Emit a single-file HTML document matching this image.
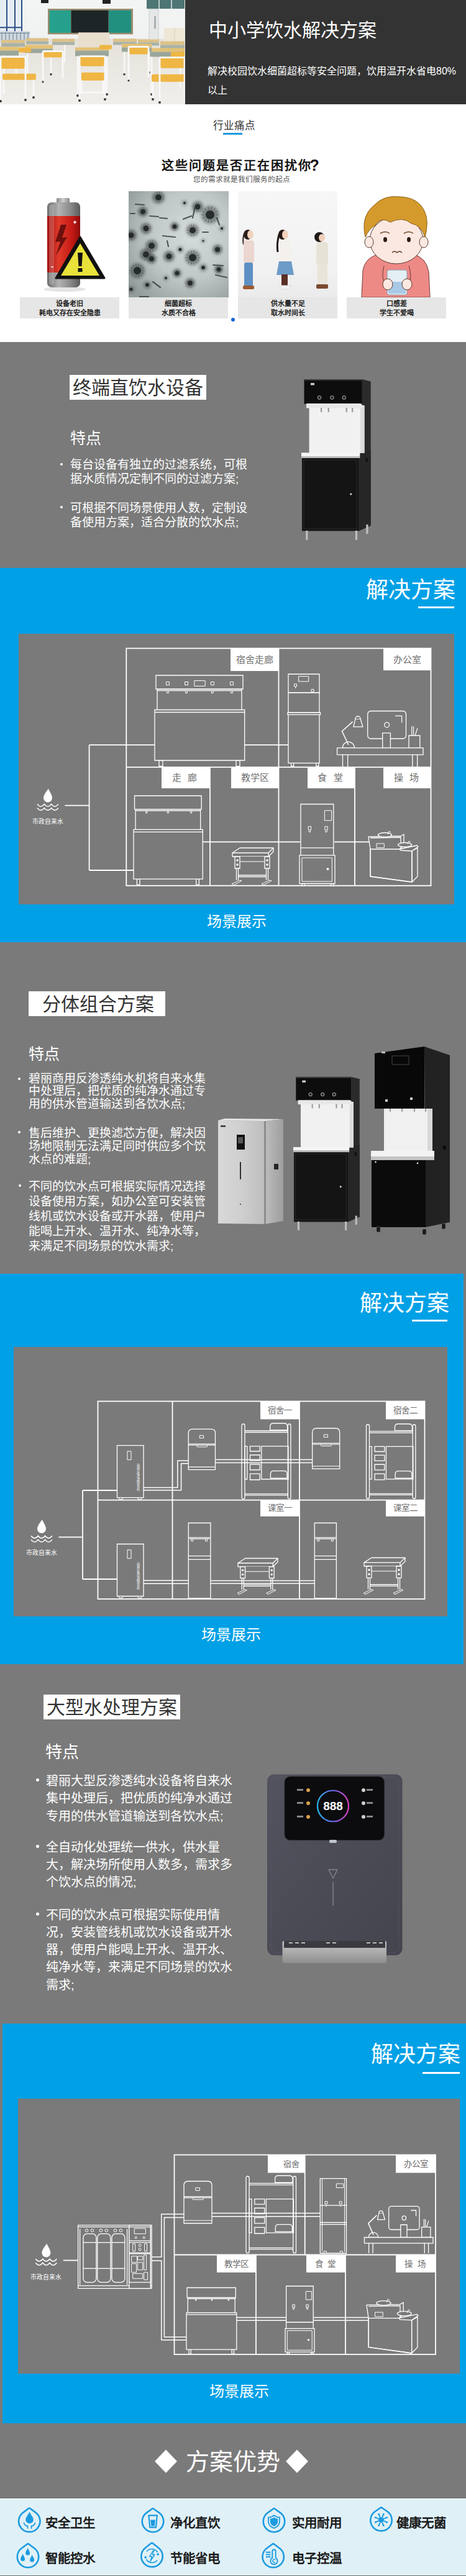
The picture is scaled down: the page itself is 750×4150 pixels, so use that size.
<!DOCTYPE html>
<html lang="zh-CN"><head><meta charset="utf-8"><title>中小学饮水解决方案</title>
<style>
*{margin:0;padding:0;box-sizing:border-box}
html,body{width:750px;height:4150px;overflow:hidden;background:#fff;font-family:"Liberation Sans",sans-serif}
#pg{position:relative;width:750px;height:4150px;background:#fff}
.a{position:absolute}
.nw{white-space:nowrap}
.gray{background:#7a7a7a}
.blue{background:#00a0e6}
.t30{font-size:30px;line-height:30px;color:#fff}
.tbox{background:#fff;width:220px;height:40px;text-align:center;font-size:30px;line-height:42px;color:#333;white-space:nowrap}
.feat{font-size:25px;line-height:25px;color:#fff;white-space:nowrap}
.bl{color:#fff;white-space:nowrap}
.bl .dot{position:absolute;width:4px;height:4px;background:#fff;border-radius:50%}
.sol{font-size:36px;line-height:36px;color:#fff;white-space:nowrap}
.scene{font-size:24px;line-height:24px;color:#fff;white-space:nowrap}
.cap{background:#e6e6e6;text-align:center;font-size:11px;line-height:14.5px;font-weight:bold;color:#1e1e1e;white-space:nowrap;padding-top:3px}
.card{position:absolute;top:308px;width:160px;height:205px;background:#fff}
.fi{position:absolute;font-size:20.5px;font-weight:bold;color:#1a1a1a;white-space:nowrap;line-height:21px}
.j{display:inline-block;text-align:justify;text-align-last:justify;white-space:nowrap}
</style></head><body><div id="pg">

<!-- header -->
<div class="a" id="photo" style="left:0;top:0;width:298px;height:168px;background:#e8e6e0;overflow:hidden"><svg width="298" height="168" viewBox="0 0 298 167" preserveAspectRatio="none"><defs><linearGradient id="pwall" x1="0" y1="0" x2="0" y2="1"><stop offset="0" stop-color="#f3f4f4"/><stop offset="1" stop-color="#eceeed"/></linearGradient><linearGradient id="pfloor" x1="0" y1="0" x2="0" y2="1"><stop offset="0" stop-color="#e4e1da"/><stop offset="1" stop-color="#f1efeb"/></linearGradient></defs><rect width="298" height="167" fill="url(#pwall)"/><rect x="0" y="62" width="298" height="105" fill="url(#pfloor)"/><rect x="0" y="0" width="36" height="52" fill="#e6edf2"/><g stroke="#2d4f86" stroke-width="2" fill="none"><line x1="11" y1="0" x2="11" y2="52"/><line x1="24" y1="0" x2="24" y2="52"/><line x1="35" y1="0" x2="35" y2="52"/><line x1="0" y1="44" x2="36" y2="44"/></g><rect x="0" y="50" width="48" height="18" fill="#cfd8e0"/><g stroke="#7a8a99" stroke-width="1.2"><line x1="3" y1="52" x2="3" y2="68"/><line x1="9" y1="52" x2="9" y2="68"/><line x1="15" y1="52" x2="15" y2="68"/><line x1="21" y1="52" x2="21" y2="68"/><line x1="27" y1="52" x2="27" y2="68"/><line x1="33" y1="52" x2="33" y2="68"/><line x1="39" y1="52" x2="39" y2="68"/><line x1="45" y1="52" x2="45" y2="68"/><line x1="0" y1="53" x2="48" y2="53"/></g><rect x="66" y="0" width="12" height="5" fill="#222"/><rect x="165" y="0" width="13" height="6" fill="#222"/><rect x="236" y="0" width="62" height="14" fill="#4c7574"/><g stroke="#e3e9e9" stroke-width="1.5"><line x1="256" y1="0" x2="256" y2="14"/><line x1="276" y1="0" x2="276" y2="14"/></g><rect x="240" y="15" width="15" height="52" fill="#e6e8e8" stroke="#cdd0d0"/><rect x="248" y="26" width="3" height="20" fill="#a8b0b4"/><rect x="264" y="45" width="34" height="26" fill="#efe7d6"/><line x1="281" y1="45" x2="281" y2="71" stroke="#dacfb8"/><rect x="77" y="14" width="137" height="41" fill="#9a8b6c"/><rect x="79.5" y="16.5" width="34.5" height="36" fill="#26a08c"/><rect x="114.5" y="16.5" width="60" height="36" fill="#1e2526"/><rect x="175" y="16.5" width="36" height="36" fill="#22907f"/><rect x="126" y="52" width="50" height="24" fill="#e8dfcd"/><g fill="#ddc187"><rect x="2" y="64" width="38" height="5"/><rect x="42" y="61" width="36" height="5"/><rect x="84" y="62" width="36" height="5"/><rect x="182" y="62" width="38" height="5"/><rect x="222" y="63" width="34" height="5"/><rect x="258" y="66" width="40" height="6"/></g><g fill="#a9b2a8"><rect x="2" y="69" width="38" height="6"/><rect x="42" y="66" width="36" height="5"/><rect x="84" y="67" width="36" height="5"/><rect x="182" y="67" width="38" height="5"/><rect x="222" y="68" width="34" height="5"/><rect x="258" y="72" width="40" height="6"/></g><g fill="#e3c175"><rect x="0" y="75" width="30" height="6"/><rect x="40" y="72" width="45" height="6"/><rect x="121" y="76" width="54" height="5"/><rect x="196" y="70" width="48" height="6"/><rect x="238" y="77" width="60" height="6"/></g><g fill="#9ba69b"><rect x="0" y="81" width="30" height="8"/><rect x="40" y="78" width="45" height="7"/><rect x="121" y="81" width="54" height="9"/><rect x="196" y="76" width="48" height="7"/><rect x="238" y="83" width="60" height="8"/></g><g stroke="#f7f7f7" stroke-width="2.6"><line x1="125" y1="90" x2="125" y2="152"/><line x1="172" y1="90" x2="172" y2="150"/><line x1="44" y1="85" x2="44" y2="120"/><line x1="82" y1="85" x2="82" y2="118"/><line x1="200" y1="83" x2="200" y2="118"/><line x1="240" y1="83" x2="240" y2="115"/><line x1="244" y1="91" x2="244" y2="150"/><line x1="290" y1="91" x2="290" y2="140"/><line x1="6" y1="89" x2="6" y2="125"/><line x1="26" y1="89" x2="26" y2="120"/><line x1="104" y1="72" x2="104" y2="100"/><line x1="300" y1="72" x2="300" y2="100"/></g><g fill="#3a3a3a"><circle cx="125" cy="153" r="2"/><circle cx="172" cy="151" r="2"/><circle cx="44" cy="121" r="1.8"/><circle cx="82" cy="119" r="1.8"/><circle cx="244" cy="151" r="2"/><circle cx="200" cy="119" r="1.8"/><circle cx="240" cy="116" r="1.8"/></g><g fill="#efb644"><rect x="0" y="92" width="40" height="18" rx="3"/><rect x="4" y="118" width="54" height="10" rx="2"/><rect x="129" y="90.5" width="39" height="15.5" rx="3"/><rect x="131" y="116" width="37" height="13" rx="2"/><rect x="258" y="93" width="39" height="16" rx="3"/><rect x="244" y="119" width="54" height="12" rx="2"/><rect x="208" y="76" width="30" height="11" rx="2"/><rect x="70" y="82" width="30" height="10" rx="2"/><rect x="160" y="72" width="20" height="7" rx="2"/><rect x="30" y="76" width="20" height="8" rx="2"/><rect x="275" y="83" width="23" height="8" rx="2"/></g><g stroke="#f8f8f8" stroke-width="2.8" fill="none"><path d="M1 91 H41 M41 91 V160 M1 91 V162 M6 128 V150 M54 128 V155"/><path d="M128 90 H169 M128 90 V160 M169 90 V158 M131 129 V150 M166 129 V150 M128 148 H169"/><path d="M257 92 H298 M257 92 V163 M297 92 V160 M246 131 V158"/><path d="M69 82 H101 M69 82 V130 M101 82 V125"/><path d="M207 75 H239 M207 75 V128 M239 75 V124"/></g><g fill="#3a3a3a"><circle cx="1" cy="162" r="2"/><circle cx="41" cy="160" r="2"/><circle cx="128" cy="161" r="2"/><circle cx="169" cy="159" r="2"/><circle cx="257" cy="164" r="2"/><circle cx="246" cy="159" r="2"/><circle cx="54" cy="156" r="2"/><circle cx="69" cy="131" r="1.6"/><circle cx="207" cy="129" r="1.6"/></g></svg></div>
<div class="a" style="left:298px;top:0;width:452px;height:168px;background:#333"></div><div class="a" style="left:296.5px;top:0;width:1.5px;height:168px;background:#ecebe8"></div>
<div class="a t30 nw" style="left:336px;top:34px"><span class="j" style="width:270.00px">中小学饮水解决方案</span></div>
<div class="a nw" style="left:334px;top:99px;font-size:16px;line-height:31px;color:#fff"><span class="j" style="width:400.03px">解决校园饮水细菌超标等安全问题，饮用温开水省电80%</span><br><span class="j" style="width:32.00px">以上</span></div>

<!-- pain points -->
<div class="a nw" style="left:1.5px;width:750px;top:192.5px;text-align:center;font-size:16.5px;line-height:18px;color:#333"><span class="j" style="width:68.00px">行业痛点</span></div>
<div class="a" style="left:359px;top:214px;width:31px;height:3px;background:#1d9be0"></div>
<div class="a nw" style="left:259.5px;top:254px;font-size:20px;letter-spacing:2px;line-height:22px;font-weight:bold;color:#111"><span class="j" style="width:242.00px">这些问题是否正在困扰你</span><span style="font-size:25px;margin-left:-3px;position:relative;top:1px">?</span></div>
<div class="a nw" style="left:310.5px;top:281.5px;font-size:11.7px;line-height:13px;color:#555"><span class="j" style="width:156.00px">您的需求就是我们服务的起点</span></div>

<div class="card" style="left:32px"><div id="img1" class="a" style="left:0;top:0;width:160px;height:171px"><svg width="160" height="171" viewBox="0 0 160 171"><defs><linearGradient id="bg1" x1="0" x2="1"><stop offset="0" stop-color="#6d6d6d"/><stop offset=".35" stop-color="#b3b3b3"/><stop offset=".7" stop-color="#8a8a8a"/><stop offset="1" stop-color="#5a5a5a"/></linearGradient><linearGradient id="br1" x1="0" x2="1"><stop offset="0" stop-color="#a01010"/><stop offset=".35" stop-color="#e03a2a"/><stop offset=".75" stop-color="#c41a14"/><stop offset="1" stop-color="#8a0c0c"/></linearGradient><linearGradient id="bc1" x1="0" x2="1"><stop offset="0" stop-color="#888"/><stop offset=".5" stop-color="#cfcfcf"/><stop offset="1" stop-color="#888"/></linearGradient></defs><ellipse cx="72" cy="158" rx="34" ry="4" fill="#e4e4e4"/><rect x="59" y="11" width="21" height="9" rx="2" fill="url(#bc1)"/><rect x="44" y="18" width="53" height="137" rx="7" fill="url(#bg1)"/><rect x="44" y="40" width="53" height="91" fill="url(#br1)"/><rect x="47" y="22" width="8" height="128" rx="3" fill="#ffffff" opacity=".18"/><path d="M66 54 L57 82 L65 81 L58 104 L76 74 L68 75 L75 54 Z" fill="#5a0a0a" opacity=".85"/><path d="M86 50 h5 M88.5 47.5 v5" stroke="#fff" stroke-width="1.6"/><path d="M50 122 h4" stroke="#fff" stroke-width="1.4"/><path d="M97 74 L136 140 L58 140 Z" fill="#111" stroke="#111" stroke-width="3" stroke-linejoin="round"/><path d="M97 84 L128 136 L66 136 Z" fill="#e9e23a"/><path d="M93 99 h8 l-1.5 22 h-5 Z" fill="#111"/><rect x="93.5" y="124" width="7" height="6" fill="#111"/></svg></div><div class="a cap" style="left:0;top:171px;width:160px;height:34px"><span class="j" style="width:44.00px">设备老旧</span><br><span class="j" style="width:99.00px">耗电又存在安全隐患</span></div></div>
<div class="card" style="left:207px"><div id="img2" class="a" style="left:0;top:0;width:160px;height:171px;background:radial-gradient(ellipse at 60% 45%,#d3d9da 0%,#b4bcbd 45%,#8d9596 100%)"><svg width="161" height="171" viewBox="0 0 161 171"><defs><radialGradient id="bgb" cx=".62" cy=".42" r=".75"><stop offset="0" stop-color="#d5dbdb"/><stop offset=".55" stop-color="#c0c7c7"/><stop offset="1" stop-color="#939c9c"/></radialGradient><filter id="fb" x="-1" y="-1" width="3" height="3"><feGaussianBlur stdDeviation="2.2"/></filter></defs><rect width="161" height="171" fill="url(#bgb)"/><circle cx="48" cy="10" r="10.5" fill="#3a3f40" opacity=".45" filter="url(#fb)"/><circle cx="48" cy="10" r="5.0" fill="#1d2121" opacity=".9"/><path d="M52.5 10.0L57.5 10.0M52.1 12.0L56.6 14.1M50.8 13.5L53.9 17.4M49.0 14.4L50.1 19.3M47.0 14.4L45.9 19.3M45.2 13.5L42.1 17.4M43.9 12.0L39.4 14.1M43.5 10.0L38.5 10.0M43.9 8.0L39.4 5.9M45.2 6.5L42.1 2.6M47.0 5.6L45.9 0.7M49.0 5.6L50.1 0.7M50.8 6.5L53.9 2.6M52.1 8.0L56.6 5.9" stroke="#2f3434" stroke-width=".7" opacity=".7"/><circle cx="23" cy="33" r="8.4" fill="#3a3f40" opacity=".45" filter="url(#fb)"/><circle cx="23" cy="33" r="4.0" fill="#1d2121" opacity=".9"/><path d="M26.6 33.0L30.6 33.0M26.2 34.6L29.8 36.3M25.2 35.8L27.7 38.9M23.8 36.5L24.7 40.4M22.2 36.5L21.3 40.4M20.8 35.8L18.3 38.9M19.8 34.6L16.2 36.3M19.4 33.0L15.4 33.0M19.8 31.4L16.2 29.7M20.8 30.2L18.3 27.1M22.2 29.5L21.3 25.6M23.8 29.5L24.7 25.6M25.2 30.2L27.7 27.1M26.2 31.4L29.8 29.7" stroke="#2f3434" stroke-width=".7" opacity=".7"/><circle cx="111" cy="25" r="9.5" fill="#3a3f40" opacity=".45" filter="url(#fb)"/><circle cx="111" cy="25" r="4.5" fill="#1d2121" opacity=".9"/><path d="M115.0 25.0L119.5 25.0M114.6 26.8L118.7 28.7M113.5 28.2L116.3 31.7M111.9 28.9L112.9 33.3M110.1 28.9L109.1 33.3M108.5 28.2L105.7 31.7M107.4 26.8L103.3 28.7M107.0 25.0L102.5 25.0M107.4 23.2L103.3 21.3M108.5 21.8L105.7 18.3M110.1 21.1L109.1 16.7M111.9 21.1L112.9 16.7M113.5 21.8L116.3 18.3M114.6 23.2L118.7 21.3" stroke="#2f3434" stroke-width=".7" opacity=".7"/><circle cx="131" cy="38" r="14.7" fill="#3a3f40" opacity=".45" filter="url(#fb)"/><circle cx="131" cy="38" r="7.0" fill="#1d2121" opacity=".9"/><path d="M137.3 38.0L144.3 38.0M136.7 40.7L143.0 43.8M134.9 42.9L139.3 48.4M132.4 44.1L134.0 51.0M129.6 44.1L128.0 51.0M127.1 42.9L122.7 48.4M125.3 40.7L119.0 43.8M124.7 38.0L117.7 38.0M125.3 35.3L119.0 32.2M127.1 33.1L122.7 27.6M129.6 31.9L128.0 25.0M132.4 31.9L134.0 25.0M134.9 33.1L139.3 27.6M136.7 35.3L143.0 32.2" stroke="#2f3434" stroke-width=".7" opacity=".7"/><circle cx="28" cy="60" r="9.5" fill="#3a3f40" opacity=".45" filter="url(#fb)"/><circle cx="28" cy="60" r="4.5" fill="#1d2121" opacity=".9"/><path d="M32.0 60.0L36.5 60.0M31.6 61.8L35.7 63.7M30.5 63.2L33.3 66.7M28.9 63.9L29.9 68.3M27.1 63.9L26.1 68.3M25.5 63.2L22.7 66.7M24.4 61.8L20.3 63.7M23.9 60.0L19.5 60.0M24.4 58.2L20.3 56.3M25.5 56.8L22.7 53.3M27.1 56.1L26.1 51.7M28.9 56.1L29.9 51.7M30.5 56.8L33.3 53.3M31.6 58.2L35.7 56.3" stroke="#2f3434" stroke-width=".7" opacity=".7"/><circle cx="74" cy="57" r="7.4" fill="#3a3f40" opacity=".45" filter="url(#fb)"/><circle cx="74" cy="57" r="3.5" fill="#1d2121" opacity=".9"/><path d="M77.2 57.0L80.7 57.0M76.8 58.4L80.0 59.9M76.0 59.5L78.1 62.2M74.7 60.1L75.5 63.5M73.3 60.1L72.5 63.5M72.0 59.5L69.9 62.2M71.2 58.4L68.0 59.9M70.8 57.0L67.3 57.0M71.2 55.6L68.0 54.1M72.0 54.5L69.9 51.8M73.3 53.9L72.5 50.5M74.7 53.9L75.5 50.5M76.0 54.5L78.1 51.8M76.8 55.6L80.0 54.1" stroke="#2f3434" stroke-width=".7" opacity=".7"/><circle cx="103" cy="63" r="10.5" fill="#3a3f40" opacity=".45" filter="url(#fb)"/><circle cx="103" cy="63" r="5.0" fill="#1d2121" opacity=".9"/><path d="M107.5 63.0L112.5 63.0M107.1 65.0L111.6 67.1M105.8 66.5L108.9 70.4M104.0 67.4L105.1 72.3M102.0 67.4L100.9 72.3M100.2 66.5L97.1 70.4M98.9 65.0L94.4 67.1M98.5 63.0L93.5 63.0M98.9 61.0L94.4 58.9M100.2 59.5L97.1 55.6M102.0 58.6L100.9 53.7M104.0 58.6L105.1 53.7M105.8 59.5L108.9 55.6M107.1 61.0L111.6 58.9" stroke="#2f3434" stroke-width=".7" opacity=".7"/><circle cx="4" cy="71" r="9.5" fill="#3a3f40" opacity=".45" filter="url(#fb)"/><circle cx="4" cy="71" r="4.5" fill="#1d2121" opacity=".9"/><path d="M8.1 71.0L12.5 71.0M7.6 72.8L11.7 74.7M6.5 74.2L9.3 77.7M4.9 74.9L5.9 79.3M3.1 74.9L2.1 79.3M1.5 74.2L-1.3 77.7M0.4 72.8L-3.7 74.7M-0.0 71.0L-4.5 71.0M0.4 69.2L-3.7 67.3M1.5 67.8L-1.3 64.3M3.1 67.1L2.1 62.7M4.9 67.1L5.9 62.7M6.5 67.8L9.3 64.3M7.6 69.2L11.7 67.3" stroke="#2f3434" stroke-width=".7" opacity=".7"/><circle cx="37" cy="88" r="10.5" fill="#3a3f40" opacity=".45" filter="url(#fb)"/><circle cx="37" cy="88" r="5.0" fill="#1d2121" opacity=".9"/><path d="M41.5 88.0L46.5 88.0M41.1 90.0L45.6 92.1M39.8 91.5L42.9 95.4M38.0 92.4L39.1 97.3M36.0 92.4L34.9 97.3M34.2 91.5L31.1 95.4M32.9 90.0L28.4 92.1M32.5 88.0L27.5 88.0M32.9 86.0L28.4 83.9M34.2 84.5L31.1 80.6M36.0 83.6L34.9 78.7M38.0 83.6L39.1 78.7M39.8 84.5L42.9 80.6M41.1 86.0L45.6 83.9" stroke="#2f3434" stroke-width=".7" opacity=".7"/><circle cx="28" cy="102" r="10.5" fill="#3a3f40" opacity=".45" filter="url(#fb)"/><circle cx="28" cy="102" r="5.0" fill="#1d2121" opacity=".9"/><path d="M32.5 102.0L37.5 102.0M32.1 104.0L36.6 106.1M30.8 105.5L33.9 109.4M29.0 106.4L30.1 111.3M27.0 106.4L25.9 111.3M25.2 105.5L22.1 109.4M23.9 104.0L19.4 106.1M23.5 102.0L18.5 102.0M23.9 100.0L19.4 97.9M25.2 98.5L22.1 94.6M27.0 97.6L25.9 92.7M29.0 97.6L30.1 92.7M30.8 98.5L33.9 94.6M32.1 100.0L36.6 97.9" stroke="#2f3434" stroke-width=".7" opacity=".7"/><circle cx="37" cy="109" r="8.4" fill="#3a3f40" opacity=".45" filter="url(#fb)"/><circle cx="37" cy="109" r="4.0" fill="#1d2121" opacity=".9"/><path d="M40.6 109.0L44.6 109.0M40.2 110.6L43.8 112.3M39.2 111.8L41.7 114.9M37.8 112.5L38.7 116.4M36.2 112.5L35.3 116.4M34.8 111.8L32.3 114.9M33.8 110.6L30.2 112.3M33.4 109.0L29.4 109.0M33.8 107.4L30.2 105.7M34.8 106.2L32.3 103.1M36.2 105.5L35.3 101.6M37.8 105.5L38.7 101.6M39.2 106.2L41.7 103.1M40.2 107.4L43.8 105.7" stroke="#2f3434" stroke-width=".7" opacity=".7"/><circle cx="65" cy="105" r="9.5" fill="#3a3f40" opacity=".45" filter="url(#fb)"/><circle cx="65" cy="105" r="4.5" fill="#1d2121" opacity=".9"/><path d="M69.0 105.0L73.5 105.0M68.6 106.8L72.7 108.7M67.5 108.2L70.3 111.7M65.9 108.9L66.9 113.3M64.1 108.9L63.1 113.3M62.5 108.2L59.7 111.7M61.4 106.8L57.3 108.7M61.0 105.0L56.5 105.0M61.4 103.2L57.3 101.3M62.5 101.8L59.7 98.3M64.1 101.1L63.1 96.7M65.9 101.1L66.9 96.7M67.5 101.8L70.3 98.3M68.6 103.2L72.7 101.3" stroke="#2f3434" stroke-width=".7" opacity=".7"/><circle cx="83" cy="94" r="5.2" fill="#3a3f40" opacity=".45" filter="url(#fb)"/><circle cx="83" cy="94" r="2.5" fill="#1d2121" opacity=".9"/><circle cx="103" cy="107" r="12.6" fill="#3a3f40" opacity=".45" filter="url(#fb)"/><circle cx="103" cy="107" r="6.0" fill="#1d2121" opacity=".9"/><path d="M108.4 107.0L114.4 107.0M107.9 109.3L113.3 111.9M106.4 111.2L110.1 115.9M104.2 112.3L105.5 118.1M101.8 112.3L100.5 118.1M99.6 111.2L95.9 115.9M98.1 109.3L92.7 111.9M97.6 107.0L91.6 107.0M98.1 104.7L92.7 102.1M99.6 102.8L95.9 98.1M101.8 101.7L100.5 95.9M104.2 101.7L105.5 95.9M106.4 102.8L110.1 98.1M107.9 104.7L113.3 102.1" stroke="#2f3434" stroke-width=".7" opacity=".7"/><circle cx="143" cy="94" r="8.4" fill="#3a3f40" opacity=".45" filter="url(#fb)"/><circle cx="143" cy="94" r="4.0" fill="#1d2121" opacity=".9"/><path d="M146.6 94.0L150.6 94.0M146.2 95.6L149.8 97.3M145.2 96.8L147.7 99.9M143.8 97.5L144.7 101.4M142.2 97.5L141.3 101.4M140.8 96.8L138.3 99.9M139.8 95.6L136.2 97.3M139.4 94.0L135.4 94.0M139.8 92.4L136.2 90.7M140.8 91.2L138.3 88.1M142.2 90.5L141.3 86.6M143.8 90.5L144.7 86.6M145.2 91.2L147.7 88.1M146.2 92.4L149.8 90.7" stroke="#2f3434" stroke-width=".7" opacity=".7"/><circle cx="14" cy="128" r="12.6" fill="#3a3f40" opacity=".45" filter="url(#fb)"/><circle cx="14" cy="128" r="6.0" fill="#1d2121" opacity=".9"/><path d="M19.4 128.0L25.4 128.0M18.9 130.3L24.3 132.9M17.4 132.2L21.1 136.9M15.2 133.3L16.5 139.1M12.8 133.3L11.5 139.1M10.6 132.2L6.9 136.9M9.1 130.3L3.7 132.9M8.6 128.0L2.6 128.0M9.1 125.7L3.7 123.1M10.6 123.8L6.9 119.1M12.8 122.7L11.5 116.9M15.2 122.7L16.5 116.9M17.4 123.8L21.1 119.1M18.9 125.7L24.3 123.1" stroke="#2f3434" stroke-width=".7" opacity=".7"/><circle cx="78" cy="132" r="7.4" fill="#3a3f40" opacity=".45" filter="url(#fb)"/><circle cx="78" cy="132" r="3.5" fill="#1d2121" opacity=".9"/><path d="M81.2 132.0L84.7 132.0M80.8 133.4L84.0 134.9M80.0 134.5L82.1 137.2M78.7 135.1L79.5 138.5M77.3 135.1L76.5 138.5M76.0 134.5L73.9 137.2M75.2 133.4L72.0 134.9M74.8 132.0L71.3 132.0M75.2 130.6L72.0 129.1M76.0 129.5L73.9 126.8M77.3 128.9L76.5 125.5M78.7 128.9L79.5 125.5M80.0 129.5L82.1 126.8M80.8 130.6L84.0 129.1" stroke="#2f3434" stroke-width=".7" opacity=".7"/><circle cx="120" cy="123" r="6.3" fill="#3a3f40" opacity=".45" filter="url(#fb)"/><circle cx="120" cy="123" r="3.0" fill="#1d2121" opacity=".9"/><circle cx="145" cy="126" r="7.4" fill="#3a3f40" opacity=".45" filter="url(#fb)"/><circle cx="145" cy="126" r="3.5" fill="#1d2121" opacity=".9"/><path d="M148.2 126.0L151.7 126.0M147.8 127.4L151.0 128.9M147.0 128.5L149.1 131.2M145.7 129.1L146.5 132.5M144.3 129.1L143.5 132.5M143.0 128.5L140.9 131.2M142.2 127.4L139.0 128.9M141.8 126.0L138.3 126.0M142.2 124.6L139.0 123.1M143.0 123.5L140.9 120.8M144.3 122.9L143.5 119.5M145.7 122.9L146.5 119.5M147.0 123.5L149.1 120.8M147.8 124.6L151.0 123.1" stroke="#2f3434" stroke-width=".7" opacity=".7"/><circle cx="99" cy="148" r="8.4" fill="#3a3f40" opacity=".45" filter="url(#fb)"/><circle cx="99" cy="148" r="4.0" fill="#1d2121" opacity=".9"/><path d="M102.6 148.0L106.6 148.0M102.2 149.6L105.8 151.3M101.2 150.8L103.7 153.9M99.8 151.5L100.7 155.4M98.2 151.5L97.3 155.4M96.8 150.8L94.3 153.9M95.8 149.6L92.2 151.3M95.4 148.0L91.4 148.0M95.8 146.4L92.2 144.7M96.8 145.2L94.3 142.1M98.2 144.5L97.3 140.6M99.8 144.5L100.7 140.6M101.2 145.2L103.7 142.1M102.2 146.4L105.8 144.7" stroke="#2f3434" stroke-width=".7" opacity=".7"/><circle cx="30" cy="151" r="6.3" fill="#3a3f40" opacity=".45" filter="url(#fb)"/><circle cx="30" cy="151" r="3.0" fill="#1d2121" opacity=".9"/><circle cx="4" cy="158" r="5.2" fill="#3a3f40" opacity=".45" filter="url(#fb)"/><circle cx="4" cy="158" r="2.5" fill="#1d2121" opacity=".9"/><circle cx="90" cy="19" r="4.2" fill="#3a3f40" opacity=".45" filter="url(#fb)"/><circle cx="90" cy="19" r="2.0" fill="#1d2121" opacity=".9"/><circle cx="150" cy="60" r="4.2" fill="#3a3f40" opacity=".45" filter="url(#fb)"/><circle cx="150" cy="60" r="2.0" fill="#1d2121" opacity=".9"/><circle cx="60" cy="140" r="4.2" fill="#3a3f40" opacity=".45" filter="url(#fb)"/><circle cx="60" cy="140" r="2.0" fill="#1d2121" opacity=".9"/><circle cx="120" cy="80" r="3.2" fill="#3a3f40" opacity=".45" filter="url(#fb)"/><circle cx="120" cy="80" r="1.5" fill="#1d2121" opacity=".9"/><line x1="34" y1="40" x2="48" y2="41" stroke="#3b4142" stroke-width="2.2" stroke-linecap="round" opacity=".85"/><line x1="50" y1="43" x2="62" y2="44" stroke="#3b4142" stroke-width="2.2" stroke-linecap="round" opacity=".85"/><line x1="88" y1="45" x2="101" y2="40" stroke="#3b4142" stroke-width="2.2" stroke-linecap="round" opacity=".85"/><line x1="107" y1="25" x2="103" y2="43" stroke="#3b4142" stroke-width="2.2" stroke-linecap="round" opacity=".85"/><line x1="11" y1="21" x2="25" y2="22" stroke="#3b4142" stroke-width="2.2" stroke-linecap="round" opacity=".85"/><line x1="119" y1="66" x2="128" y2="66" stroke="#3b4142" stroke-width="2.2" stroke-linecap="round" opacity=".85"/><line x1="136" y1="119" x2="152" y2="120" stroke="#3b4142" stroke-width="2.2" stroke-linecap="round" opacity=".85"/><line x1="140" y1="135" x2="158" y2="139" stroke="#3b4142" stroke-width="2.2" stroke-linecap="round" opacity=".85"/><line x1="39" y1="146" x2="51" y2="155" stroke="#3b4142" stroke-width="2.2" stroke-linecap="round" opacity=".85"/><line x1="142" y1="43" x2="146" y2="54" stroke="#3b4142" stroke-width="2.2" stroke-linecap="round" opacity=".85"/><line x1="18" y1="170" x2="32" y2="170" stroke="#3b4142" stroke-width="2.2" stroke-linecap="round" opacity=".85"/><line x1="55" y1="72" x2="75" y2="74" stroke="#3b4142" stroke-width="2.2" stroke-linecap="round" opacity=".85"/><line x1="62" y1="80" x2="64" y2="89" stroke="#3b4142" stroke-width="2.2" stroke-linecap="round" opacity=".85"/><line x1="3" y1="36" x2="10" y2="36" stroke="#3b4142" stroke-width="2.2" stroke-linecap="round" opacity=".85"/></svg></div><div class="a cap" style="left:0;top:171px;width:160px;height:34px"><span class="j" style="width:44.00px">细菌超标</span><br><span class="j" style="width:55.00px">水质不合格</span></div></div>
<div class="card" style="left:383px"><div id="img3" class="a" style="left:0;top:0;width:160px;height:171px;background:#f2f2f2"><svg width="160" height="171" viewBox="0 0 160 171"><defs><linearGradient id="kbg" x1="0" y1="0" x2="0" y2="1"><stop offset="0" stop-color="#f7f7f7"/><stop offset=".75" stop-color="#f1f1f1"/><stop offset="1" stop-color="#ebebeb"/></linearGradient></defs><rect width="160" height="171" fill="url(#kbg)"/><g><ellipse cx="16" cy="70" rx="7" ry="8" fill="#2a1e1a"/><ellipse cx="20" cy="70" rx="5" ry="7" fill="#f1d2bd"/><path d="M10 68 q-3 10 -1 18" stroke="#2a1e1a" stroke-width="2" fill="none"/><rect x="9" y="79" width="17" height="38" rx="5" fill="#ecd6d0"/><rect x="10" y="115" width="14" height="40" rx="3" fill="#5d8fc4"/><rect x="8" y="152" width="18" height="6" rx="2" fill="#9a5a30"/></g><g><ellipse cx="72" cy="70" rx="7" ry="8" fill="#231816"/><ellipse cx="76" cy="70" rx="5" ry="7" fill="#f1d2bd"/><path d="M66 70 q-4 15 -2 28" stroke="#231816" stroke-width="3" fill="none"/><rect x="67" y="79" width="17" height="36" rx="5" fill="#f4f1ec"/><path d="M66 113 h20 l4 22 h-28 Z" fill="#6d9cc8"/><rect x="70" y="134" width="10" height="20" fill="#5a2e24"/><rect x="68" y="152" width="17" height="6" rx="2" fill="#f2f2f2" stroke="#ddd"/></g><g><ellipse cx="131" cy="74" rx="8" ry="8" fill="#1e1a18"/><ellipse cx="135" cy="75" rx="5" ry="6" fill="#efcfb9"/><rect x="126" y="82" width="19" height="38" rx="5" fill="#e6e2d6"/><rect x="128" y="118" width="16" height="36" rx="4" fill="#e9e5da"/><rect x="126" y="150" width="19" height="7" rx="2" fill="#7a4a30"/></g></svg></div><div class="a cap" style="left:0;top:171px;width:160px;height:34px"><span class="j" style="width:55.00px">供水量不足</span><br><span class="j" style="width:55.00px">取水时间长</span></div></div>
<div class="card" style="left:558px"><div id="img4" class="a" style="left:0;top:0;width:160px;height:171px"><svg width="160" height="171" viewBox="0 0 160 171"><rect width="160" height="171" fill="#ffffff"/><path d="M24 171 L26 128 Q30 105 55 101 L105 101 Q128 106 132 130 L134 171 Z" fill="#ee8a86" stroke="#6a3a38" stroke-width="1"/><ellipse cx="80" cy="79" rx="43" ry="38" fill="#fbe8e0" stroke="#5a3a30" stroke-width="1"/><ellipse cx="36" cy="82" rx="7" ry="9" fill="#fbe8e0" stroke="#5a3a30" stroke-width="1"/><ellipse cx="124" cy="82" rx="7" ry="9" fill="#fbe8e0" stroke="#5a3a30" stroke-width="1"/><path d="M30 74 Q22 40 45 22 Q60 6 85 9 Q115 10 125 32 Q133 48 126 74 Q120 55 104 52 Q90 40 70 50 Q55 40 46 55 Q36 60 30 74 Z" fill="#d49a2c" stroke="#8a5a14" stroke-width="1"/><ellipse cx="62" cy="78" rx="3" ry="4" fill="#2a1a14"/><ellipse cx="100" cy="78" rx="3" ry="4" fill="#2a1a14"/><path d="M54 68 q8 -5 15 0 M92 68 q8 -5 15 0" stroke="#6a4020" stroke-width="1.5" fill="none"/><path d="M73 99 q4 -4 8 0 q4 -4 8 0" stroke="#6a3a30" stroke-width="1.5" fill="none"/><path d="M60 120 Q55 140 62 150 L100 150 Q106 140 100 120" fill="#ee8a86" stroke="#6a3a38" stroke-width="1"/><rect x="65" y="127" width="32" height="40" rx="3" fill="#e4eef5" stroke="#8aa0b0" stroke-width="1"/><rect x="67" y="146" width="28" height="19" fill="#a9c9e6"/><ellipse cx="66" cy="150" rx="8" ry="9" fill="#fbe8e0" stroke="#5a3a30" stroke-width="1"/><ellipse cx="97" cy="150" rx="8" ry="9" fill="#fbe8e0" stroke="#5a3a30" stroke-width="1"/></svg></div><div class="a cap" style="left:0;top:171px;width:160px;height:34px"><span class="j" style="width:33.00px">口感差</span><br><span class="j" style="width:55.00px">学生不爱喝</span></div></div>
<div class="a" style="left:372px;top:512px;width:6px;height:6px;border-radius:50%;background:#1565d8"></div>

<!-- section 1 gray -->
<div class="a gray" style="left:0;top:551px;width:750px;height:364px"></div>
<div class="a tbox" style="left:112px;top:604px"><span class="j" style="width:210.00px">终端直饮水设备</span></div>
<div class="a feat" style="left:113px;top:693.5px"><span class="j" style="width:50.00px">特点</span></div>
<div class="a bl" style="left:113px;top:737px;font-size:19px;line-height:23.2px"><span class="j" style="width:285.00px">每台设备有独立的过滤系统，可根</span><br><span class="j" style="width:271.28px">据水质情况定制不同的过滤方案;</span></div>
<div class="a bl" style="left:113px;top:806.5px;font-size:19px;line-height:23.2px"><span class="j" style="width:285.00px">可根据不同场景使用人数，定制设</span><br><span class="j" style="width:271.28px">备使用方案，适合分散的饮水点;</span></div>
<div class="a" style="left:97px;top:746px;width:4px;height:4px;background:#fff;border-radius:50%"></div>
<div class="a" style="left:97px;top:815px;width:4px;height:4px;background:#fff;border-radius:50%"></div>

<!-- blue 1 -->
<div class="a blue" style="left:0;top:915px;width:750px;height:603px"></div>
<div class="a sol" style="left:589px;top:932.5px"><span class="j" style="width:144.00px">解决方案</span></div>
<div class="a" style="left:673px;top:977px;width:58px;height:3px;background:#fff"></div>
<div class="a gray" style="left:30px;top:1021px;width:701px;height:435.5px"></div>
<div class="a scene" style="left:333px;top:1473px"><span class="j" style="width:96.00px">场景展示</span></div>

<!-- section 2 gray -->
<div class="a gray" style="left:0;top:1518px;width:750px;height:534px"></div>
<div class="a tbox" style="left:46px;top:1597px;padding-left:4px"><span class="j" style="width:180.00px">分体组合方案</span></div>
<div class="a feat" style="left:46px;top:1686px"><span class="j" style="width:50.00px">特点</span></div>
<div class="a bl" style="left:46px;top:1728px;font-size:19px;line-height:20.3px"><span class="j" style="width:285.00px">碧丽商用反渗透纯水机将自来水集</span><br><span class="j" style="width:285.00px">中处理后，把优质的纯净水通过专</span><br><span class="j" style="width:252.28px">用的供水管道输送到各饮水点;</span></div>
<div class="a bl" style="left:46px;top:1814.5px;font-size:19px;line-height:21.2px"><span class="j" style="width:285.00px">售后维护、更换滤芯方便，解决因</span><br><span class="j" style="width:285.00px">场地限制无法满足同时供应多个饮</span><br><span class="j" style="width:100.28px">水点的难题;</span></div>
<div class="a bl" style="left:46px;top:1899.7px;font-size:19px;line-height:24.1px"><span class="j" style="width:285.00px">不同的饮水点可根据实际情况选择</span><br><span class="j" style="width:285.00px">设备使用方案，如办公室可安装管</span><br><span class="j" style="width:285.00px">线机或饮水设备或开水器，使用户</span><br><span class="j" style="width:285.00px">能喝上开水、温开水、纯净水等，</span><br><span class="j" style="width:233.28px">来满足不同场景的饮水需求;</span></div>
<div class="a" style="left:29px;top:1736px;width:4px;height:4px;background:#fff;border-radius:50%"></div>
<div class="a" style="left:29px;top:1822.3px;width:4px;height:4px;background:#fff;border-radius:50%"></div>
<div class="a" style="left:29.5px;top:1908.4px;width:4px;height:4px;background:#fff;border-radius:50%"></div>

<!-- blue 2 -->
<div class="a gray" style="left:746px;top:2052px;width:4px;height:629px"></div><div class="a blue" style="left:0;top:2052px;width:746px;height:629px"></div>
<div class="a sol" style="left:579px;top:2082px"><span class="j" style="width:144.00px">解决方案</span></div>
<div class="a" style="left:663px;top:2126px;width:57px;height:3px;background:#fff"></div>
<div class="a gray" style="left:22px;top:2170px;width:698px;height:434px"></div>
<div class="a scene" style="left:324px;top:2622px"><span class="j" style="width:96.00px">场景展示</span></div>

<!-- section 3 gray -->
<div class="a gray" style="left:0;top:2681px;width:750px;height:579px"></div>
<div class="a tbox" style="left:70px;top:2730px"><span class="j" style="width:210.00px">大型水处理方案</span></div>
<div class="a feat" style="left:73px;top:2810.5px;font-size:27px"><span class="j" style="width:54.00px">特点</span></div>
<div class="a bl" style="left:74px;top:2855px;font-size:20px;line-height:28.3px"><span class="j" style="width:300.00px">碧丽大型反渗透纯水设备将自来水</span><br><span class="j" style="width:300.00px">集中处理后，把优质的纯净水通过</span><br><span class="j" style="width:285.56px">专用的供水管道输送到各饮水点;</span></div>
<div class="a bl" style="left:74px;top:2961.7px;font-size:20px;line-height:28.3px"><span class="j" style="width:280.00px">全自动化处理统一供水，供水量</span><br><span class="j" style="width:300.00px">大，解决场所使用人数多，需求多</span><br><span class="j" style="width:145.56px">个饮水点的情况;</span></div>
<div class="a bl" style="left:74px;top:3070.5px;font-size:20px;line-height:28.3px"><span class="j" style="width:280.00px">不同的饮水点可根据实际使用情</span><br><span class="j" style="width:300.00px">况，安装管线机或饮水设备或开水</span><br><span class="j" style="width:300.00px">器，使用户能喝上开水、温开水、</span><br><span class="j" style="width:300.00px">纯净水等，来满足不同场景的饮水</span><br><span class="j" style="width:45.56px">需求;</span></div>
<div class="a" style="left:57.5px;top:2864.5px;width:5px;height:5px;background:#fff;border-radius:50%"></div>
<div class="a" style="left:57.5px;top:2972px;width:5px;height:5px;background:#fff;border-radius:50%"></div>
<div class="a" style="left:57.5px;top:3081px;width:5px;height:5px;background:#fff;border-radius:50%"></div>

<!-- blue 3 -->
<div class="a gray" style="left:0;top:3260px;width:4px;height:644px"></div><div class="a blue" style="left:4px;top:3260px;width:746px;height:644px"></div>
<div class="a sol" style="left:597px;top:3291.5px"><span class="j" style="width:144.00px">解决方案</span></div>
<div class="a" style="left:680px;top:3338px;width:60px;height:3px;background:#fff"></div>
<div class="a gray" style="left:29px;top:3381px;width:711px;height:443px"></div>
<div class="a scene" style="left:337px;top:3841px"><span class="j" style="width:96.00px">场景展示</span></div>

<!-- advantages -->
<div class="a gray" style="left:0;top:3904px;width:750px;height:121px"></div><div class="a" style="left:0;top:4024px;width:750px;height:1px;background:#6e6e6e"></div>
<div class="a nw" style="left:298.5px;top:3947px;font-size:38px;line-height:38px;color:#fff"><span class="j" style="width:152.00px">方案优势</span></div>
<div class="a" style="left:0;top:4025px;width:750px;height:125px;background:#dff0f7"></div><div class="a" style="left:0;top:4025px;width:750px;height:2px;background:#eef8fb"></div>
<div class="a" style="left:0;top:4147.5px;width:750px;height:1.5px;background:#f3fafc"></div><div class="a" style="left:0;top:4149px;width:750px;height:1px;background:#56646a"></div>
<div class="fi" style="left:73px;top:4053.5px"><span class="j" style="width:80.00px">安全卫生</span></div>
<div class="fi" style="left:274px;top:4053.5px"><span class="j" style="width:80.00px">净化直饮</span></div>
<div class="fi" style="left:470px;top:4053.5px"><span class="j" style="width:80.00px">实用耐用</span></div>
<div class="fi" style="left:638px;top:4053.5px"><span class="j" style="width:80.00px">健康无菌</span></div>
<div class="fi" style="left:73px;top:4111px"><span class="j" style="width:80.00px">智能控水</span></div>
<div class="fi" style="left:274px;top:4111px"><span class="j" style="width:80.00px">节能省电</span></div>
<div class="fi" style="left:470px;top:4111px"><span class="j" style="width:80.00px">电子控温</span></div>

<svg class="a" style="left:0;top:0" width="750" height="4150" viewBox="0 0 750 4150"><polygon points="582.8,611.0 596.7,614.5 596.7,846.7 577.0,855.4 577.0,729.0 582.8,729.0" fill="#2b2b2b"/><polygon points="577.0,729.0 596.7,726.0 596.7,846.7 577.0,855.4" fill="#262626"/><rect x="588.0" y="738.0" width="4.0" height="6.0" fill="#111"/><rect x="497.6" y="653.0" width="88.9" height="77.0" fill="#f1f1f1"/><rect x="580.0" y="653.0" width="6.5" height="77.0" fill="#dcdcdc"/><rect x="489.5" y="611.0" width="93.3" height="39.7" fill="#0d0d0d"/><rect x="489.5" y="611.0" width="93.3" height="2.0" fill="#3a3a3a"/><polygon points="493.0,650.0 580.7,650.0 585.0,655.0 580.7,657.4 493.0,657.4" fill="#e8e8e8"/><circle cx="514.0" cy="640.5" r="2.8" fill="#222" stroke="#bbb" stroke-width="1.0"/><circle cx="534.4" cy="640.5" r="2.8" fill="#222" stroke="#bbb" stroke-width="1.0"/><circle cx="553.8" cy="640.5" r="2.8" fill="#222" stroke="#bbb" stroke-width="1.0"/><rect x="500.0" y="617.0" width="6.0" height="3.5" fill="#ccc"/><rect x="516.0" y="657.0" width="2.2" height="7.0" fill="#9a9a9a"/><rect x="527.6" y="657.0" width="2.2" height="7.0" fill="#9a9a9a"/><rect x="556.6" y="657.0" width="2.2" height="7.0" fill="#9a9a9a"/><rect x="566.0" y="657.0" width="2.2" height="7.0" fill="#9a9a9a"/><rect x="485.0" y="729.3" width="94.3" height="6.0" fill="#f4f4f4"/><rect x="485.0" y="735.0" width="94.3" height="3.0" fill="#bdbdbd"/><rect x="486.0" y="738.0" width="91.0" height="117.4" fill="#141414"/><rect x="489.0" y="741.0" width="85.0" height="111.0" fill="none" stroke="#2a2a2a" stroke-width="1.0"/><circle cx="564.8" cy="796.0" r="1.6" fill="#ddd"/><rect x="492.2" y="854.8" width="3.2" height="15.0" fill="#bfbfbf"/><rect x="571.9" y="854.8" width="3.2" height="15.0" fill="#bfbfbf"/><rect x="589.3" y="845.0" width="3.2" height="15.0" fill="#bfbfbf"/><defs><linearGradient id="slv" x1="0" x2="1"><stop offset="0" stop-color="#d9d9d9"/><stop offset=".5" stop-color="#cfcfcf"/><stop offset="1" stop-color="#bdbdbd"/></linearGradient><linearGradient id="slv2" x1="0" x2="1"><stop offset="0" stop-color="#bcbcbc"/><stop offset="1" stop-color="#9e9e9e"/></linearGradient></defs><polygon points="351,1805 427,1806 427,1972 351,1971" fill="url(#slv)"/><polygon points="351,1805 362,1802 456,1803 427,1806" fill="#e6e6e6"/><polygon points="427,1806 456,1803 456,1967 427,1972" fill="url(#slv2)"/><rect x="425" y="1806" width="3" height="166" fill="#8d8d8d"/><rect x="381" y="1828" width="13" height="24" fill="#111"/><rect x="383" y="1832" width="8" height="10" fill="#555"/><rect x="386" y="1872" width="2" height="28" fill="#333"/><rect x="441" y="1875" width="7" height="9" fill="#222"/><rect x="355" y="1813" width="8" height="2.5" fill="#333"/><circle cx="387" cy="1940" r="1" fill="#333"/><polygon points="565.5,1734.9 578.8,1738.2 578.8,1960.2 560.0,1968.5 560.0,1847.7 565.5,1847.7" fill="#2b2b2b"/><polygon points="560.0,1847.7 578.8,1844.8 578.8,1960.2 560.0,1968.5" fill="#262626"/><rect x="570.5" y="1856.3" width="3.8" height="5.7" fill="#111"/><rect x="484.0" y="1775.0" width="85.0" height="73.6" fill="#f1f1f1"/><rect x="562.8" y="1775.0" width="6.2" height="73.6" fill="#dcdcdc"/><rect x="476.3" y="1734.9" width="89.2" height="38.0" fill="#0d0d0d"/><rect x="476.3" y="1734.9" width="89.2" height="1.9" fill="#3a3a3a"/><polygon points="479.6,1772.2 563.5,1772.2 567.6,1776.9 563.5,1779.2 479.6,1779.2" fill="#e8e8e8"/><circle cx="499.7" cy="1763.1" r="2.7" fill="#222" stroke="#bbb" stroke-width="1.0"/><circle cx="519.2" cy="1763.1" r="2.7" fill="#222" stroke="#bbb" stroke-width="1.0"/><circle cx="537.8" cy="1763.1" r="2.7" fill="#222" stroke="#bbb" stroke-width="1.0"/><rect x="486.3" y="1740.6" width="5.7" height="3.3" fill="#ccc"/><rect x="501.6" y="1778.8" width="2.1" height="6.7" fill="#9a9a9a"/><rect x="512.7" y="1778.8" width="2.1" height="6.7" fill="#9a9a9a"/><rect x="540.4" y="1778.8" width="2.1" height="6.7" fill="#9a9a9a"/><rect x="549.4" y="1778.8" width="2.1" height="6.7" fill="#9a9a9a"/><rect x="472.0" y="1848.0" width="90.2" height="5.7" fill="#f4f4f4"/><rect x="472.0" y="1853.4" width="90.2" height="2.9" fill="#bdbdbd"/><rect x="473.0" y="1856.3" width="87.0" height="112.2" fill="#141414"/><rect x="475.8" y="1859.1" width="81.3" height="106.1" fill="none" stroke="#2a2a2a" stroke-width="1.0"/><circle cx="548.3" cy="1911.7" r="1.5" fill="#ddd"/><rect x="478.9" y="1967.9" width="3.1" height="14.3" fill="#bfbfbf"/><rect x="555.1" y="1967.9" width="3.1" height="14.3" fill="#bfbfbf"/><rect x="571.7" y="1958.6" width="3.1" height="14.3" fill="#bfbfbf"/><polygon points="683,1686 724,1700 724,1969 685,1977" fill="#222"/><rect x="713" y="1846" width="5" height="6" fill="#0a0a0a"/><polygon points="603,1697 683,1686 683,1786 603,1786" fill="#080808"/><rect x="631" y="1701" width="27" height="14" fill="none" stroke="#555" stroke-width="0.8"/><rect x="614" y="1694" width="6" height="3" fill="#bbb"/><rect x="620" y="1771" width="4" height="4" fill="#ccc"/><rect x="660" y="1768" width="4" height="4" fill="#ccc"/><rect x="618" y="1786" width="78" height="69" fill="#f0f0f0"/><rect x="688" y="1786" width="8" height="69" fill="#d8d8d8"/><rect x="627" y="1786" width="2" height="5" fill="#999"/><rect x="646" y="1786" width="2" height="5" fill="#999"/><rect x="666" y="1786" width="2" height="5" fill="#999"/><rect x="684" y="1786" width="2" height="5" fill="#999"/><rect x="597" y="1854" width="102" height="9" fill="#f3f3f3"/><rect x="597" y="1863" width="102" height="6" fill="#c4c4c4"/><rect x="598" y="1869" width="87" height="108" fill="#0b0b0b"/><circle cx="604.5" cy="1872" r="1.3" fill="#eee"/><circle cx="672" cy="1874" r="1.3" fill="#eee"/><rect x="606" y="1976" width="6" height="9" rx="2" fill="#1a1a1a" stroke="#666" stroke-width=".6"/><rect x="680" y="1980" width="6" height="9" rx="2" fill="#1a1a1a" stroke="#666" stroke-width=".6"/><rect x="711" y="1971" width="6" height="9" rx="2" fill="#1a1a1a" stroke="#666" stroke-width=".6"/><defs><linearGradient id="wu" x1="0" y1="0" x2="1" y2="1"><stop offset="0" stop-color="#52535e"/><stop offset="1" stop-color="#43444e"/></linearGradient><linearGradient id="ring" x1="0" x2="1"><stop offset="0" stop-color="#28b7f0"/><stop offset=".5" stop-color="#6a6cf0"/><stop offset="1" stop-color="#e040c0"/></linearGradient><linearGradient id="tray" x1="0" y1="0" x2="0" y2="1"><stop offset="0" stop-color="#c8c8c8"/><stop offset="1" stop-color="#8e8e8e"/></linearGradient></defs><rect x="430" y="2858.5" width="217.5" height="291.5" rx="11" fill="url(#wu)"/><rect x="436" y="2862" width="206" height="284" rx="9" fill="none" stroke="#5a5b66" stroke-width=".6"/><rect x="458" y="2862" width="160.6" height="102.6" rx="9" fill="#0c0c0e" stroke="#2a2c33" stroke-width="1"/><circle cx="536" cy="2909.5" r="25" fill="none" stroke="url(#ring)" stroke-width="2.2"/><text textLength="31.70" lengthAdjust="spacing" x="536" y="2916" font-family="Liberation Sans" font-size="19" fill="#fff" text-anchor="middle" font-weight="bold">888</text><circle cx="496" cy="2884" r="3" fill="#d9a04a"/><rect x="478" y="2882" width="10" height="3" fill="#888"/><circle cx="585" cy="2884" r="3" fill="#cfcfcf"/><rect x="590" y="2882" width="10" height="3" fill="#888"/><circle cx="496" cy="2905" r="3" fill="#d9a04a"/><rect x="478" y="2903" width="10" height="3" fill="#888"/><circle cx="585" cy="2905" r="3" fill="#cfcfcf"/><rect x="590" y="2903" width="10" height="3" fill="#888"/><circle cx="496" cy="2927" r="3" fill="#d9a04a"/><rect x="478" y="2925" width="10" height="3" fill="#888"/><circle cx="585" cy="2927" r="3" fill="#cfcfcf"/><rect x="590" y="2925" width="10" height="3" fill="#888"/><rect x="530" y="2964" width="12" height="5" rx="2" fill="#c0c4cc"/><path d="M529 3012 h14 l-7 14 z" fill="none" stroke="#9aa0aa" stroke-width="1"/><rect x="535.5" y="3032" width="1.2" height="38" fill="#8c909a"/><rect x="454.6" y="3127" width="167.4" height="35.6" rx="2" fill="url(#tray)"/><rect x="457" y="3127" width="163" height="11" fill="#3a3b40"/><rect x="465" y="3129" width="6" height="2" fill="#bbb"/><rect x="475" y="3129" width="6" height="2" fill="#bbb"/><rect x="485" y="3129" width="6" height="2" fill="#bbb"/><rect x="525" y="3129" width="6" height="2" fill="#bbb"/><rect x="535" y="3129" width="6" height="2" fill="#bbb"/><rect x="590" y="3129" width="6" height="2" fill="#bbb"/><rect x="600" y="3129" width="6" height="2" fill="#bbb"/><rect x="610" y="3129" width="6" height="2" fill="#bbb"/><rect x="203.3" y="1044.5" width="490.2" height="382.3" rx="0" fill="none" stroke="#fff" stroke-width="1.8"/><line x1="203.0" y1="1235.9" x2="693.5" y2="1235.9" stroke="#fff" stroke-width="1.8"/><line x1="448.5" y1="1044.5" x2="448.5" y2="1426.5" stroke="#fff" stroke-width="1.8"/><line x1="338.0" y1="1235.9" x2="338.0" y2="1426.5" stroke="#fff" stroke-width="1.8"/><line x1="571.0" y1="1235.9" x2="571.0" y2="1426.5" stroke="#fff" stroke-width="1.8"/><line x1="104.5" y1="1297.6" x2="143.6" y2="1297.6" stroke="#fff" stroke-width="1.8"/><line x1="143.6" y1="1200.2" x2="143.6" y2="1402.0" stroke="#fff" stroke-width="1.8"/><line x1="143.6" y1="1200.2" x2="251.0" y2="1200.2" stroke="#fff" stroke-width="1.8"/><line x1="393.0" y1="1200.2" x2="464.0" y2="1200.2" stroke="#fff" stroke-width="1.8"/><line x1="143.6" y1="1402.0" x2="216.0" y2="1402.0" stroke="#fff" stroke-width="1.8"/><line x1="326.0" y1="1356.3" x2="483.0" y2="1356.3" stroke="#fff" stroke-width="1.8"/><line x1="538.0" y1="1356.3" x2="595.0" y2="1356.3" stroke="#fff" stroke-width="1.8"/><path d="M77.8 1270.6 C80.0 1275.6 84.0 1280.6 84.0 1285.6 A7.0 7.0 0 0 1 70.0 1285.6 C70.0 1280.6 74.5 1275.6 77.8 1270.6 Z" fill="#fff"/><path d="M60.0 1295.4 q5.65 7.5 11.3 0 q5.65 7.5 11.3 0 q5.65 7.5 11.3 0" fill="none" stroke="#fff" stroke-width="1.5"/><path d="M60.0 1301.6 q5.65 7.5 11.3 0 q5.65 7.5 11.3 0 q5.65 7.5 11.3 0" fill="none" stroke="#fff" stroke-width="1.5"/><text textLength="50.00" lengthAdjust="spacing" x="77.0" y="1326.5" font-size="9.8" fill="#fff" text-anchor="middle" font-family="Liberation Sans,sans-serif">市政自来水</text><g transform="translate(249.00,1088.00) scale(1.0000,1.0000)"><rect x="4.0" y="22.0" width="136.0" height="34.0" rx="0" fill="#7a7a7a" stroke="#fff" stroke-width="1.3" vector-effect="non-scaling-stroke"/><rect x="2.0" y="0.0" width="140.0" height="22.0" rx="0" fill="#7a7a7a" stroke="#fff" stroke-width="1.3" vector-effect="non-scaling-stroke"/><line x1="4.0" y1="24.5" x2="140.0" y2="24.5" stroke="#fff" stroke-width="1.3" vector-effect="non-scaling-stroke"/><rect x="18.5" y="10.5" width="5.0" height="5.0" rx="0" fill="#7a7a7a" stroke="#fff" stroke-width="1" vector-effect="non-scaling-stroke"/><rect x="48.5" y="10.5" width="5.0" height="5.0" rx="0" fill="#7a7a7a" stroke="#fff" stroke-width="1" vector-effect="non-scaling-stroke"/><rect x="90.3" y="10.5" width="5.0" height="5.0" rx="0" fill="#7a7a7a" stroke="#fff" stroke-width="1" vector-effect="non-scaling-stroke"/><rect x="121.5" y="10.5" width="5.0" height="5.0" rx="0" fill="#7a7a7a" stroke="#fff" stroke-width="1" vector-effect="non-scaling-stroke"/><rect x="63.8" y="8.6" width="17.4" height="8.7" rx="0" fill="#7a7a7a" stroke="#fff" stroke-width="1" vector-effect="non-scaling-stroke"/><rect x="19.7" y="24.5" width="2.6" height="4.0" rx="0" fill="#7a7a7a" stroke="#fff" stroke-width="1" vector-effect="non-scaling-stroke"/><rect x="49.7" y="24.5" width="2.6" height="4.0" rx="0" fill="#7a7a7a" stroke="#fff" stroke-width="1" vector-effect="non-scaling-stroke"/><rect x="91.5" y="24.5" width="2.6" height="4.0" rx="0" fill="#7a7a7a" stroke="#fff" stroke-width="1" vector-effect="non-scaling-stroke"/><rect x="122.7" y="24.5" width="2.6" height="4.0" rx="0" fill="#7a7a7a" stroke="#fff" stroke-width="1" vector-effect="non-scaling-stroke"/><rect x="7.0" y="137.0" width="6.0" height="9.5" rx="0" fill="#7a7a7a" stroke="#fff" stroke-width="1.3" vector-effect="non-scaling-stroke"/><rect x="131.0" y="137.0" width="6.0" height="9.5" rx="0" fill="#7a7a7a" stroke="#fff" stroke-width="1.3" vector-effect="non-scaling-stroke"/><rect x="0.0" y="55.5" width="144.7" height="81.5" rx="0" fill="#7a7a7a" stroke="#fff" stroke-width="1.3" vector-effect="non-scaling-stroke"/><line x1="0.0" y1="59.5" x2="144.7" y2="59.5" stroke="#fff" stroke-width="1.3" vector-effect="non-scaling-stroke"/></g><g transform="translate(463.00,1086.00) scale(1.0000,1.0000)"><rect x="1.0" y="0.0" width="50.0" height="30.0" rx="0" fill="#7a7a7a" stroke="#fff" stroke-width="1.3" vector-effect="non-scaling-stroke"/><rect x="17.6" y="3.6" width="16.1" height="8.3" rx="0" fill="#7a7a7a" stroke="#fff" stroke-width="1" vector-effect="non-scaling-stroke"/><rect x="10.5" y="16.0" width="4.0" height="4.0" rx="0" fill="#7a7a7a" stroke="#fff" stroke-width="1" vector-effect="non-scaling-stroke"/><line x1="12.5" y1="20.0" x2="12.5" y2="23.0" stroke="#fff" stroke-width="1" vector-effect="non-scaling-stroke"/><rect x="38.0" y="24.6" width="4.0" height="4.0" rx="0" fill="#7a7a7a" stroke="#fff" stroke-width="1" vector-effect="non-scaling-stroke"/><line x1="40.0" y1="28.6" x2="40.0" y2="31.0" stroke="#fff" stroke-width="1" vector-effect="non-scaling-stroke"/><rect x="1.0" y="30.0" width="50.0" height="32.0" rx="0" fill="#7a7a7a" stroke="#fff" stroke-width="1.3" vector-effect="non-scaling-stroke"/><rect x="5.6" y="143.4" width="4.0" height="5.1" rx="0" fill="#7a7a7a" stroke="#fff" stroke-width="1.3" vector-effect="non-scaling-stroke"/><rect x="45.8" y="143.4" width="4.0" height="5.1" rx="0" fill="#7a7a7a" stroke="#fff" stroke-width="1.3" vector-effect="non-scaling-stroke"/><rect x="1.0" y="65.4" width="50.0" height="78.0" rx="0" fill="#7a7a7a" stroke="#fff" stroke-width="1.3" vector-effect="non-scaling-stroke"/><rect x="0.0" y="62.0" width="52.6" height="3.4" rx="0" fill="#7a7a7a" stroke="#fff" stroke-width="1.3" vector-effect="non-scaling-stroke"/></g><g transform="translate(542.00,1145.00) scale(1.0000,1.0000)"><path d="M9.2 59.8 A9.6 9.6 0 0 1 28.4 59.8 Z" fill="#7a7a7a" stroke="#fff" stroke-width="1.3" vector-effect="non-scaling-stroke" stroke-linejoin="round"/><path d="M18.8 55 L8.5 33 L25.6 17.6" fill="none" stroke="#fff" stroke-width="1.6" vector-effect="non-scaling-stroke" stroke-linejoin="round"/><path d="M26.9 25.8 L41.9 25.8 L38 13 L30 13 Z" fill="#7a7a7a" stroke="#fff" stroke-width="1.3" vector-effect="non-scaling-stroke" stroke-linejoin="round"/><path d="M30 13 A4 4 0 0 1 38 13" fill="#7a7a7a" stroke="#fff" stroke-width="1.3" vector-effect="non-scaling-stroke" stroke-linejoin="round"/><rect x="49.7" y="0.5" width="61.8" height="44.5" rx="5" fill="#7a7a7a" stroke="#fff" stroke-width="1.3" vector-effect="non-scaling-stroke"/><path d="M94.3 8.3 L104.6 8.3 L104.6 19.3" fill="none" stroke="#fff" stroke-width="1.3" vector-effect="non-scaling-stroke" stroke-linejoin="round"/><circle cx="80.6" cy="22.8" r="4.0" fill="#7a7a7a" stroke="#fff" stroke-width="1.3" vector-effect="non-scaling-stroke"/><rect x="73.7" y="35.8" width="12.7" height="24.0" rx="0" fill="#7a7a7a" stroke="#fff" stroke-width="1.3" vector-effect="non-scaling-stroke"/><line x1="120.7" y1="25.0" x2="120.7" y2="40.0" stroke="#fff" stroke-width="1.2" vector-effect="non-scaling-stroke"/><line x1="123.5" y1="25.0" x2="123.5" y2="40.0" stroke="#fff" stroke-width="1.2" vector-effect="non-scaling-stroke"/><path d="M126 40 L130 28" fill="none" stroke="#fff" stroke-width="1.2" vector-effect="non-scaling-stroke" stroke-linejoin="round"/><rect x="116.0" y="40.0" width="17.8" height="19.8" rx="0" fill="#7a7a7a" stroke="#fff" stroke-width="1.3" vector-effect="non-scaling-stroke"/><rect x="0.6" y="59.8" width="138.4" height="11.0" rx="0" fill="#7a7a7a" stroke="#fff" stroke-width="1.3" vector-effect="non-scaling-stroke"/><line x1="9.5" y1="70.8" x2="9.5" y2="90.0" stroke="#fff" stroke-width="1.3" vector-effect="non-scaling-stroke"/><line x1="17.7" y1="70.8" x2="17.7" y2="90.0" stroke="#fff" stroke-width="1.3" vector-effect="non-scaling-stroke"/><line x1="121.8" y1="70.8" x2="121.8" y2="90.0" stroke="#fff" stroke-width="1.3" vector-effect="non-scaling-stroke"/><line x1="129.7" y1="70.8" x2="129.7" y2="90.0" stroke="#fff" stroke-width="1.3" vector-effect="non-scaling-stroke"/></g><g transform="translate(215.00,1282.00) scale(0.7690,0.9796)"><rect x="4.0" y="22.0" width="136.0" height="34.0" rx="0" fill="#7a7a7a" stroke="#fff" stroke-width="1.3" vector-effect="non-scaling-stroke"/><rect x="2.0" y="0.0" width="140.0" height="22.0" rx="0" fill="#7a7a7a" stroke="#fff" stroke-width="1.3" vector-effect="non-scaling-stroke"/><line x1="4.0" y1="24.5" x2="140.0" y2="24.5" stroke="#fff" stroke-width="1.3" vector-effect="non-scaling-stroke"/><rect x="25.7" y="24.5" width="2.6" height="4.0" rx="0" fill="#7a7a7a" stroke="#fff" stroke-width="1" vector-effect="non-scaling-stroke"/><rect x="70.7" y="24.5" width="2.6" height="4.0" rx="0" fill="#7a7a7a" stroke="#fff" stroke-width="1" vector-effect="non-scaling-stroke"/><rect x="119.2" y="24.5" width="2.6" height="4.0" rx="0" fill="#7a7a7a" stroke="#fff" stroke-width="1" vector-effect="non-scaling-stroke"/><rect x="7.0" y="137.0" width="6.0" height="9.5" rx="0" fill="#7a7a7a" stroke="#fff" stroke-width="1.3" vector-effect="non-scaling-stroke"/><rect x="131.0" y="137.0" width="6.0" height="9.5" rx="0" fill="#7a7a7a" stroke="#fff" stroke-width="1.3" vector-effect="non-scaling-stroke"/><rect x="0.0" y="55.5" width="144.7" height="81.5" rx="0" fill="#7a7a7a" stroke="#fff" stroke-width="1.3" vector-effect="non-scaling-stroke"/><line x1="0.0" y1="59.5" x2="144.7" y2="59.5" stroke="#fff" stroke-width="1.3" vector-effect="non-scaling-stroke"/></g><g transform="translate(482.00,1295.50) scale(1.0000,1.0000)"><line x1="2.0" y1="70.3" x2="2.0" y2="82.4" stroke="#fff" stroke-width="1.3" vector-effect="non-scaling-stroke"/><line x1="54.8" y1="70.3" x2="54.8" y2="82.4" stroke="#fff" stroke-width="1.3" vector-effect="non-scaling-stroke"/><rect x="2.0" y="0.0" width="52.8" height="70.3" rx="0" fill="#7a7a7a" stroke="#fff" stroke-width="1.3" vector-effect="non-scaling-stroke"/><rect x="40.4" y="10.3" width="11.3" height="16.1" rx="0" fill="#7a7a7a" stroke="#fff" stroke-width="1" vector-effect="non-scaling-stroke"/><rect x="14.2" y="36.0" width="4.4" height="5.0" rx="0" fill="#7a7a7a" stroke="#fff" stroke-width="1" vector-effect="non-scaling-stroke"/><path d="M14.899999999999999 41 L15.399999999999999 45 L17.4 45 L17.9 41" fill="#7a7a7a" stroke="#fff" stroke-width="1" vector-effect="non-scaling-stroke" stroke-linejoin="round"/><rect x="40.8" y="36.0" width="4.4" height="5.0" rx="0" fill="#7a7a7a" stroke="#fff" stroke-width="1" vector-effect="non-scaling-stroke"/><path d="M41.5 41 L42 45 L44 45 L44.5 41" fill="#7a7a7a" stroke="#fff" stroke-width="1" vector-effect="non-scaling-stroke" stroke-linejoin="round"/><rect x="4.0" y="128.0" width="4.0" height="3.5" rx="0" fill="#7a7a7a" stroke="#fff" stroke-width="1.3" vector-effect="non-scaling-stroke"/><rect x="50.7" y="128.0" width="4.0" height="3.5" rx="0" fill="#7a7a7a" stroke="#fff" stroke-width="1.3" vector-effect="non-scaling-stroke"/><rect x="0.0" y="82.4" width="57.0" height="45.6" rx="0" fill="#7a7a7a" stroke="#fff" stroke-width="1.3" vector-effect="non-scaling-stroke"/><rect x="4.0" y="86.5" width="48.4" height="38.0" rx="0" fill="#7a7a7a" stroke="#fff" stroke-width="1" vector-effect="non-scaling-stroke"/><circle cx="45.5" cy="104.5" r="1.5" fill="#fff" stroke="#fff" stroke-width="1" vector-effect="non-scaling-stroke"/></g><g transform="translate(593.00,1341.00) scale(1.0000,1.0000)"><path d="M3 9 L3 71 L70 80 L70 30 L79 25 L79 71 L70 80" fill="#7a7a7a" stroke="#fff" stroke-width="1.3" vector-effect="non-scaling-stroke" stroke-linejoin="round"/><path d="M0 7 L52 6 L57 3 L57 22 L50 27 L3 27 Z" fill="#7a7a7a" stroke="#fff" stroke-width="1.3" vector-effect="non-scaling-stroke" stroke-linejoin="round"/><path d="M3 9 L52 8 L52 26" fill="none" stroke="#fff" stroke-width="1.3" vector-effect="non-scaling-stroke" stroke-linejoin="round"/><path d="M50 27 L78 21 L80 23 L70 30 L52 29 Z" fill="#7a7a7a" stroke="#fff" stroke-width="1.3" vector-effect="non-scaling-stroke" stroke-linejoin="round"/><ellipse cx="26.5" cy="4" rx="11" ry="3.5" fill="#7a7a7a" stroke="#fff" stroke-width="1.3" vector-effect="non-scaling-stroke"/><ellipse cx="58.6" cy="20" rx="11" ry="3.5" fill="#7a7a7a" stroke="#fff" stroke-width="1.3" vector-effect="non-scaling-stroke"/><rect x="13.0" y="18.0" width="12.3" height="6.7" rx="0" fill="#7a7a7a" stroke="#fff" stroke-width="1" vector-effect="non-scaling-stroke"/><path d="M31 3 l2 -5 l3 2 M63 19 l2 -5 l3 2" fill="none" stroke="#fff" stroke-width="1" vector-effect="non-scaling-stroke" stroke-linejoin="round"/><path d="M3 27 L3 71 L70 80 L70 30" fill="none" stroke="#fff" stroke-width="1.3" vector-effect="non-scaling-stroke" stroke-linejoin="round"/></g><g transform="translate(372.00,1366.00) scale(1.0000,1.0000)"><path d="M2 8 L14 0 L68 0 L68 6 L60 14 L2 14 Z" fill="#7a7a7a" stroke="#fff" stroke-width="1.3" vector-effect="non-scaling-stroke" stroke-linejoin="round"/><line x1="2.0" y1="8.0" x2="60.0" y2="8.0" stroke="#fff" stroke-width="1.3" vector-effect="non-scaling-stroke"/><line x1="60.0" y1="8.0" x2="68.0" y2="0.0" stroke="#fff" stroke-width="1.3" vector-effect="non-scaling-stroke"/><line x1="60.0" y1="8.0" x2="60.0" y2="14.0" stroke="#fff" stroke-width="1.3" vector-effect="non-scaling-stroke"/><path d="M6 14 L8 22 L58 22 L60 14" fill="#7a7a7a" stroke="#fff" stroke-width="1" vector-effect="non-scaling-stroke" stroke-linejoin="round"/><rect x="6.0" y="14.0" width="8.0" height="19.0" rx="0" fill="#7a7a7a" stroke="#fff" stroke-width="1.3" vector-effect="non-scaling-stroke"/><rect x="54.0" y="14.0" width="8.0" height="19.0" rx="0" fill="#7a7a7a" stroke="#fff" stroke-width="1.3" vector-effect="non-scaling-stroke"/><circle cx="10.0" cy="20.0" r="1.3" fill="#fff" stroke="#fff" stroke-width="1" vector-effect="non-scaling-stroke"/><circle cx="10.0" cy="27.0" r="1.3" fill="#fff" stroke="#fff" stroke-width="1" vector-effect="non-scaling-stroke"/><circle cx="58.0" cy="20.0" r="1.3" fill="#fff" stroke="#fff" stroke-width="1" vector-effect="non-scaling-stroke"/><circle cx="58.0" cy="27.0" r="1.3" fill="#fff" stroke="#fff" stroke-width="1" vector-effect="non-scaling-stroke"/><line x1="8.5" y1="33.0" x2="8.5" y2="52.0" stroke="#fff" stroke-width="1.3" vector-effect="non-scaling-stroke"/><line x1="11.5" y1="33.0" x2="11.5" y2="52.0" stroke="#fff" stroke-width="1.3" vector-effect="non-scaling-stroke"/><line x1="56.5" y1="33.0" x2="56.5" y2="52.0" stroke="#fff" stroke-width="1.3" vector-effect="non-scaling-stroke"/><line x1="59.5" y1="33.0" x2="59.5" y2="52.0" stroke="#fff" stroke-width="1.3" vector-effect="non-scaling-stroke"/><line x1="11.5" y1="44.0" x2="56.5" y2="44.0" stroke="#fff" stroke-width="1.3" vector-effect="non-scaling-stroke"/><line x1="11.5" y1="46.5" x2="56.5" y2="46.5" stroke="#fff" stroke-width="1.3" vector-effect="non-scaling-stroke"/><path d="M1 58 L14 52 L17 53 L4 60 Z" fill="#7a7a7a" stroke="#fff" stroke-width="1" vector-effect="non-scaling-stroke" stroke-linejoin="round"/><path d="M49 58 L62 52 L65 53 L52 60 Z" fill="#7a7a7a" stroke="#fff" stroke-width="1" vector-effect="non-scaling-stroke" stroke-linejoin="round"/></g><rect x="371.0" y="1044.5" width="77.5" height="36.5" fill="#fff"/><text textLength="60.00" lengthAdjust="spacing" x="409.8" y="1068.2" font-size="15" fill="#6e6e6e" text-anchor="middle" letter-spacing="0" font-family="Liberation Sans,sans-serif">宿舍走廊</text><rect x="617.0" y="1044.5" width="76.5" height="35.5" fill="#fff"/><text textLength="45.00" lengthAdjust="spacing" x="655.2" y="1067.7" font-size="15" fill="#6e6e6e" text-anchor="middle" letter-spacing="0" font-family="Liberation Sans,sans-serif">办公室</text><rect x="260.0" y="1235.0" width="77.0" height="35.0" fill="#fff"/><text textLength="43.17" lengthAdjust="spacing" x="298.5" y="1257.9" font-size="15" fill="#6e6e6e" text-anchor="middle" letter-spacing="3" font-family="Liberation Sans,sans-serif">走 廊</text><rect x="372.0" y="1235.0" width="76.5" height="35.0" fill="#fff"/><text textLength="45.00" lengthAdjust="spacing" x="410.2" y="1257.9" font-size="15" fill="#6e6e6e" text-anchor="middle" letter-spacing="0" font-family="Liberation Sans,sans-serif">教学区</text><rect x="495.0" y="1235.0" width="76.0" height="35.0" fill="#fff"/><text textLength="43.17" lengthAdjust="spacing" x="533.0" y="1257.9" font-size="15" fill="#6e6e6e" text-anchor="middle" letter-spacing="3" font-family="Liberation Sans,sans-serif">食 堂</text><rect x="617.0" y="1235.0" width="76.5" height="35.0" fill="#fff"/><text textLength="43.17" lengthAdjust="spacing" x="655.2" y="1257.9" font-size="15" fill="#6e6e6e" text-anchor="middle" letter-spacing="3" font-family="Liberation Sans,sans-serif">操 场</text><rect x="157.5" y="2257.5" width="526.0" height="318.5" rx="0" fill="none" stroke="#fff" stroke-width="1.8"/><line x1="157.5" y1="2416.7" x2="683.5" y2="2416.7" stroke="#fff" stroke-width="1.8"/><line x1="277.5" y1="2257.5" x2="277.5" y2="2576.0" stroke="#fff" stroke-width="1.8"/><line x1="482.0" y1="2257.5" x2="482.0" y2="2576.0" stroke="#fff" stroke-width="1.8"/><line x1="94.4" y1="2476.4" x2="133.0" y2="2476.4" stroke="#fff" stroke-width="1.8"/><line x1="133.0" y1="2401.0" x2="133.0" y2="2544.0" stroke="#fff" stroke-width="1.8"/><line x1="133.0" y1="2401.0" x2="188.5" y2="2401.0" stroke="#fff" stroke-width="1.8"/><line x1="133.0" y1="2544.0" x2="188.5" y2="2544.0" stroke="#fff" stroke-width="1.8"/><polyline points="231.0,2396.6 285.8,2396.6 285.8,2353.3 303.2,2353.3" fill="none" stroke="#fff" stroke-width="1.5" stroke-linejoin="round"/><polyline points="231.0,2400.8 291.6,2400.8 291.6,2357.8 303.2,2357.8" fill="none" stroke="#fff" stroke-width="1.5" stroke-linejoin="round"/><line x1="346.8" y1="2351.5" x2="502.7" y2="2351.5" stroke="#fff" stroke-width="1.5"/><line x1="346.8" y1="2356.5" x2="502.7" y2="2356.5" stroke="#fff" stroke-width="1.5"/><polyline points="231.0,2546.2 303.2,2546.2" fill="none" stroke="#fff" stroke-width="1.5" stroke-linejoin="round"/><polyline points="231.0,2551.2 303.2,2551.2" fill="none" stroke="#fff" stroke-width="1.5" stroke-linejoin="round"/><line x1="338.7" y1="2546.5" x2="506.3" y2="2546.5" stroke="#fff" stroke-width="1.5"/><line x1="338.7" y1="2551.0" x2="506.3" y2="2551.0" stroke="#fff" stroke-width="1.5"/><path d="M67.8 2448.0 C70.0 2453.0 74.0 2458.0 74.0 2463.0 A7.0 7.0 0 0 1 60.0 2463.0 C60.0 2458.0 64.5 2453.0 67.8 2448.0 Z" fill="#fff"/><path d="M50.0 2474.2 q5.65 7.5 11.3 0 q5.65 7.5 11.3 0 q5.65 7.5 11.3 0" fill="none" stroke="#fff" stroke-width="1.5"/><path d="M50.0 2480.4 q5.65 7.5 11.3 0 q5.65 7.5 11.3 0 q5.65 7.5 11.3 0" fill="none" stroke="#fff" stroke-width="1.5"/><text textLength="50.00" lengthAdjust="spacing" x="67.0" y="2505.0" font-size="9.8" fill="#fff" text-anchor="middle" font-family="Liberation Sans,sans-serif">市政自来水</text><g transform="translate(188.50,2328.60) scale(1.0000,1.0000)"><rect x="0.0" y="0.0" width="42.5" height="84.0" rx="0" fill="#7a7a7a" stroke="#fff" stroke-width="1.3" vector-effect="non-scaling-stroke"/><rect x="16.5" y="9.4" width="6.0" height="13.8" rx="0" fill="#7a7a7a" stroke="#fff" stroke-width="1" vector-effect="non-scaling-stroke"/><rect x="3.0" y="84.0" width="6.0" height="2.5" rx="0" fill="#7a7a7a" stroke="#fff" stroke-width="1" vector-effect="non-scaling-stroke"/><rect x="33.5" y="84.0" width="6.0" height="2.5" rx="0" fill="#7a7a7a" stroke="#fff" stroke-width="1" vector-effect="non-scaling-stroke"/><text textLength="5.00" lengthAdjust="spacing" x="34" y="34.5" font-size="5.2" fill="#fff" text-anchor="middle" font-family="Liberation Sans,sans-serif">商</text><text textLength="5.00" lengthAdjust="spacing" x="34" y="39.9" font-size="5.2" fill="#fff" text-anchor="middle" font-family="Liberation Sans,sans-serif">用</text><text textLength="5.00" lengthAdjust="spacing" x="34" y="45.3" font-size="5.2" fill="#fff" text-anchor="middle" font-family="Liberation Sans,sans-serif">反</text><text textLength="5.00" lengthAdjust="spacing" x="34" y="50.7" font-size="5.2" fill="#fff" text-anchor="middle" font-family="Liberation Sans,sans-serif">渗</text><text textLength="5.00" lengthAdjust="spacing" x="34" y="56.1" font-size="5.2" fill="#fff" text-anchor="middle" font-family="Liberation Sans,sans-serif">透</text><text textLength="5.00" lengthAdjust="spacing" x="34" y="61.5" font-size="5.2" fill="#fff" text-anchor="middle" font-family="Liberation Sans,sans-serif">纯</text><text textLength="5.00" lengthAdjust="spacing" x="34" y="66.9" font-size="5.2" fill="#fff" text-anchor="middle" font-family="Liberation Sans,sans-serif">水</text><text textLength="5.00" lengthAdjust="spacing" x="34" y="72.3" font-size="5.2" fill="#fff" text-anchor="middle" font-family="Liberation Sans,sans-serif">机</text></g><g transform="translate(188.50,2487.50) scale(1.0000,1.0000)"><rect x="0.0" y="0.0" width="42.5" height="84.0" rx="0" fill="#7a7a7a" stroke="#fff" stroke-width="1.3" vector-effect="non-scaling-stroke"/><rect x="16.5" y="9.4" width="6.0" height="13.8" rx="0" fill="#7a7a7a" stroke="#fff" stroke-width="1" vector-effect="non-scaling-stroke"/><rect x="3.0" y="84.0" width="6.0" height="2.5" rx="0" fill="#7a7a7a" stroke="#fff" stroke-width="1" vector-effect="non-scaling-stroke"/><rect x="33.5" y="84.0" width="6.0" height="2.5" rx="0" fill="#7a7a7a" stroke="#fff" stroke-width="1" vector-effect="non-scaling-stroke"/><text textLength="5.00" lengthAdjust="spacing" x="34" y="34.5" font-size="5.2" fill="#fff" text-anchor="middle" font-family="Liberation Sans,sans-serif">商</text><text textLength="5.00" lengthAdjust="spacing" x="34" y="39.9" font-size="5.2" fill="#fff" text-anchor="middle" font-family="Liberation Sans,sans-serif">用</text><text textLength="5.00" lengthAdjust="spacing" x="34" y="45.3" font-size="5.2" fill="#fff" text-anchor="middle" font-family="Liberation Sans,sans-serif">反</text><text textLength="5.00" lengthAdjust="spacing" x="34" y="50.7" font-size="5.2" fill="#fff" text-anchor="middle" font-family="Liberation Sans,sans-serif">渗</text><text textLength="5.00" lengthAdjust="spacing" x="34" y="56.1" font-size="5.2" fill="#fff" text-anchor="middle" font-family="Liberation Sans,sans-serif">透</text><text textLength="5.00" lengthAdjust="spacing" x="34" y="61.5" font-size="5.2" fill="#fff" text-anchor="middle" font-family="Liberation Sans,sans-serif">纯</text><text textLength="5.00" lengthAdjust="spacing" x="34" y="66.9" font-size="5.2" fill="#fff" text-anchor="middle" font-family="Liberation Sans,sans-serif">水</text><text textLength="5.00" lengthAdjust="spacing" x="34" y="72.3" font-size="5.2" fill="#fff" text-anchor="middle" font-family="Liberation Sans,sans-serif">机</text></g><g transform="translate(303.20,2302.40) scale(0.9841,1.0000)"><path d="M0 65.3 V6.5 Q0 0 6.5 0 H37.5 Q44 0 44 6.5 V65.3 Z" fill="#7a7a7a" stroke="#fff" stroke-width="1.3" vector-effect="non-scaling-stroke" stroke-linejoin="round"/><line x1="0.0" y1="24.1" x2="44.0" y2="24.1" stroke="#fff" stroke-width="1.3" vector-effect="non-scaling-stroke"/><line x1="0.0" y1="25.9" x2="44.0" y2="25.9" stroke="#fff" stroke-width="1" vector-effect="non-scaling-stroke"/><path d="M13.7 25.9 V27.6 Q13.7 28.6 15 28.6 H29.5 Q30.8 28.6 30.8 27.6 V25.9" fill="none" stroke="#fff" stroke-width="1" vector-effect="non-scaling-stroke" stroke-linejoin="round"/><rect x="18.4" y="10.1" width="6.4" height="4.3" rx="0" fill="#7a7a7a" stroke="#fff" stroke-width="1" vector-effect="non-scaling-stroke"/><line x1="0.0" y1="61.0" x2="44.0" y2="61.0" stroke="#fff" stroke-width="1.2" vector-effect="non-scaling-stroke"/></g><g transform="translate(502.70,2301.00) scale(1.0000,1.0000)"><path d="M0 65.3 V6.5 Q0 0 6.5 0 H37.5 Q44 0 44 6.5 V65.3 Z" fill="#7a7a7a" stroke="#fff" stroke-width="1.3" vector-effect="non-scaling-stroke" stroke-linejoin="round"/><line x1="0.0" y1="24.1" x2="44.0" y2="24.1" stroke="#fff" stroke-width="1.3" vector-effect="non-scaling-stroke"/><line x1="0.0" y1="25.9" x2="44.0" y2="25.9" stroke="#fff" stroke-width="1" vector-effect="non-scaling-stroke"/><path d="M13.7 25.9 V27.6 Q13.7 28.6 15 28.6 H29.5 Q30.8 28.6 30.8 27.6 V25.9" fill="none" stroke="#fff" stroke-width="1" vector-effect="non-scaling-stroke" stroke-linejoin="round"/><rect x="18.4" y="10.1" width="6.4" height="4.3" rx="0" fill="#7a7a7a" stroke="#fff" stroke-width="1" vector-effect="non-scaling-stroke"/><line x1="0.0" y1="61.0" x2="44.0" y2="61.0" stroke="#fff" stroke-width="1.2" vector-effect="non-scaling-stroke"/></g><g transform="translate(389.00,2293.00) scale(1.0000,1.0000)"><rect x="0.0" y="1.0" width="5.0" height="120.8" rx="2.5" fill="none" stroke="#fff" stroke-width="1.3" vector-effect="non-scaling-stroke"/><rect x="74.3" y="1.0" width="4.7" height="120.8" rx="2.5" fill="none" stroke="#fff" stroke-width="1.3" vector-effect="non-scaling-stroke"/><line x1="5.0" y1="12.0" x2="74.3" y2="12.0" stroke="#fff" stroke-width="1.3" vector-effect="non-scaling-stroke"/><line x1="5.0" y1="14.5" x2="74.3" y2="14.5" stroke="#fff" stroke-width="1.3" vector-effect="non-scaling-stroke"/><path d="M45.7 11 L45.7 5 Q45.7 0 51 0 L68 0 Q73.6 0 73.6 5 L73.6 11 Z" fill="#7a7a7a" stroke="#fff" stroke-width="1.3" vector-effect="non-scaling-stroke" stroke-linejoin="round"/><rect x="31.8" y="36.8" width="43.2" height="53.2" rx="0" fill="none" stroke="#fff" stroke-width="1.3" vector-effect="non-scaling-stroke"/><rect x="5.0" y="36.8" width="3.8" height="53.2" rx="0" fill="none" stroke="#fff" stroke-width="1.3" vector-effect="non-scaling-stroke"/><rect x="13.5" y="36.8" width="15.7" height="8.2" rx="0" fill="none" stroke="#fff" stroke-width="1.3" vector-effect="non-scaling-stroke"/><rect x="13.5" y="51.0" width="15.7" height="9.0" rx="0" fill="none" stroke="#fff" stroke-width="1.3" vector-effect="non-scaling-stroke"/><rect x="13.5" y="66.0" width="15.7" height="9.0" rx="0" fill="none" stroke="#fff" stroke-width="1.3" vector-effect="non-scaling-stroke"/><rect x="13.5" y="81.4" width="15.7" height="9.6" rx="0" fill="none" stroke="#fff" stroke-width="1.3" vector-effect="non-scaling-stroke"/><path d="M46.4 88.3 L46.4 81.7 Q46.4 76.7 51.4 76.7 L68 76.7 Q73 76.7 73 81.7 L73 88.3 Z" fill="#7a7a7a" stroke="#fff" stroke-width="1.3" vector-effect="non-scaling-stroke" stroke-linejoin="round"/><line x1="5.0" y1="113.6" x2="74.3" y2="113.6" stroke="#fff" stroke-width="1.3" vector-effect="non-scaling-stroke"/><line x1="5.0" y1="115.8" x2="74.3" y2="115.8" stroke="#fff" stroke-width="1.3" vector-effect="non-scaling-stroke"/></g><g transform="translate(589.50,2294.00) scale(1.0051,0.9885)"><rect x="0.0" y="1.0" width="5.0" height="120.8" rx="2.5" fill="none" stroke="#fff" stroke-width="1.3" vector-effect="non-scaling-stroke"/><rect x="74.3" y="1.0" width="4.7" height="120.8" rx="2.5" fill="none" stroke="#fff" stroke-width="1.3" vector-effect="non-scaling-stroke"/><line x1="5.0" y1="12.0" x2="74.3" y2="12.0" stroke="#fff" stroke-width="1.3" vector-effect="non-scaling-stroke"/><line x1="5.0" y1="14.5" x2="74.3" y2="14.5" stroke="#fff" stroke-width="1.3" vector-effect="non-scaling-stroke"/><path d="M45.7 11 L45.7 5 Q45.7 0 51 0 L68 0 Q73.6 0 73.6 5 L73.6 11 Z" fill="#7a7a7a" stroke="#fff" stroke-width="1.3" vector-effect="non-scaling-stroke" stroke-linejoin="round"/><rect x="31.8" y="36.8" width="43.2" height="53.2" rx="0" fill="none" stroke="#fff" stroke-width="1.3" vector-effect="non-scaling-stroke"/><rect x="5.0" y="36.8" width="3.8" height="53.2" rx="0" fill="none" stroke="#fff" stroke-width="1.3" vector-effect="non-scaling-stroke"/><rect x="13.5" y="36.8" width="15.7" height="8.2" rx="0" fill="none" stroke="#fff" stroke-width="1.3" vector-effect="non-scaling-stroke"/><rect x="13.5" y="51.0" width="15.7" height="9.0" rx="0" fill="none" stroke="#fff" stroke-width="1.3" vector-effect="non-scaling-stroke"/><rect x="13.5" y="66.0" width="15.7" height="9.0" rx="0" fill="none" stroke="#fff" stroke-width="1.3" vector-effect="non-scaling-stroke"/><rect x="13.5" y="81.4" width="15.7" height="9.6" rx="0" fill="none" stroke="#fff" stroke-width="1.3" vector-effect="non-scaling-stroke"/><path d="M46.4 88.3 L46.4 81.7 Q46.4 76.7 51.4 76.7 L68 76.7 Q73 76.7 73 81.7 L73 88.3 Z" fill="#7a7a7a" stroke="#fff" stroke-width="1.3" vector-effect="non-scaling-stroke" stroke-linejoin="round"/><line x1="5.0" y1="113.6" x2="74.3" y2="113.6" stroke="#fff" stroke-width="1.3" vector-effect="non-scaling-stroke"/><line x1="5.0" y1="115.8" x2="74.3" y2="115.8" stroke="#fff" stroke-width="1.3" vector-effect="non-scaling-stroke"/></g><g transform="translate(303.30,2453.50) scale(1.0000,1.0000)"><rect x="0.0" y="0.0" width="35.6" height="121.3" rx="0" fill="#7a7a7a" stroke="#fff" stroke-width="1.3" vector-effect="non-scaling-stroke"/><line x1="0.0" y1="23.6" x2="35.6" y2="23.6" stroke="#fff" stroke-width="1.3" vector-effect="non-scaling-stroke"/><line x1="1.5" y1="25.7" x2="34.0" y2="25.7" stroke="#fff" stroke-width="1.2" vector-effect="non-scaling-stroke"/><rect x="4.5" y="25.7" width="3.0" height="3.6" rx="0" fill="#7a7a7a" stroke="#fff" stroke-width="1" vector-effect="non-scaling-stroke"/><rect x="27.3" y="25.7" width="3.0" height="3.6" rx="0" fill="#7a7a7a" stroke="#fff" stroke-width="1" vector-effect="non-scaling-stroke"/><line x1="0.0" y1="53.1" x2="35.6" y2="53.1" stroke="#fff" stroke-width="1.3" vector-effect="non-scaling-stroke"/><line x1="0.0" y1="58.8" x2="35.6" y2="58.8" stroke="#fff" stroke-width="1.3" vector-effect="non-scaling-stroke"/></g><g transform="translate(506.30,2453.50) scale(0.9860,1.0000)"><rect x="0.0" y="0.0" width="35.6" height="121.3" rx="0" fill="#7a7a7a" stroke="#fff" stroke-width="1.3" vector-effect="non-scaling-stroke"/><line x1="0.0" y1="23.6" x2="35.6" y2="23.6" stroke="#fff" stroke-width="1.3" vector-effect="non-scaling-stroke"/><line x1="1.5" y1="25.7" x2="34.0" y2="25.7" stroke="#fff" stroke-width="1.2" vector-effect="non-scaling-stroke"/><rect x="4.5" y="25.7" width="3.0" height="3.6" rx="0" fill="#7a7a7a" stroke="#fff" stroke-width="1" vector-effect="non-scaling-stroke"/><rect x="27.3" y="25.7" width="3.0" height="3.6" rx="0" fill="#7a7a7a" stroke="#fff" stroke-width="1" vector-effect="non-scaling-stroke"/><line x1="0.0" y1="53.1" x2="35.6" y2="53.1" stroke="#fff" stroke-width="1.3" vector-effect="non-scaling-stroke"/><line x1="0.0" y1="58.8" x2="35.6" y2="58.8" stroke="#fff" stroke-width="1.3" vector-effect="non-scaling-stroke"/></g><g transform="translate(381.00,2510.50) scale(0.9706,0.9667)"><path d="M2 8 L14 0 L68 0 L68 6 L60 14 L2 14 Z" fill="#7a7a7a" stroke="#fff" stroke-width="1.3" vector-effect="non-scaling-stroke" stroke-linejoin="round"/><line x1="2.0" y1="8.0" x2="60.0" y2="8.0" stroke="#fff" stroke-width="1.3" vector-effect="non-scaling-stroke"/><line x1="60.0" y1="8.0" x2="68.0" y2="0.0" stroke="#fff" stroke-width="1.3" vector-effect="non-scaling-stroke"/><line x1="60.0" y1="8.0" x2="60.0" y2="14.0" stroke="#fff" stroke-width="1.3" vector-effect="non-scaling-stroke"/><path d="M6 14 L8 22 L58 22 L60 14" fill="#7a7a7a" stroke="#fff" stroke-width="1" vector-effect="non-scaling-stroke" stroke-linejoin="round"/><rect x="6.0" y="14.0" width="8.0" height="19.0" rx="0" fill="#7a7a7a" stroke="#fff" stroke-width="1.3" vector-effect="non-scaling-stroke"/><rect x="54.0" y="14.0" width="8.0" height="19.0" rx="0" fill="#7a7a7a" stroke="#fff" stroke-width="1.3" vector-effect="non-scaling-stroke"/><circle cx="10.0" cy="20.0" r="1.3" fill="#fff" stroke="#fff" stroke-width="1" vector-effect="non-scaling-stroke"/><circle cx="10.0" cy="27.0" r="1.3" fill="#fff" stroke="#fff" stroke-width="1" vector-effect="non-scaling-stroke"/><circle cx="58.0" cy="20.0" r="1.3" fill="#fff" stroke="#fff" stroke-width="1" vector-effect="non-scaling-stroke"/><circle cx="58.0" cy="27.0" r="1.3" fill="#fff" stroke="#fff" stroke-width="1" vector-effect="non-scaling-stroke"/><line x1="8.5" y1="33.0" x2="8.5" y2="52.0" stroke="#fff" stroke-width="1.3" vector-effect="non-scaling-stroke"/><line x1="11.5" y1="33.0" x2="11.5" y2="52.0" stroke="#fff" stroke-width="1.3" vector-effect="non-scaling-stroke"/><line x1="56.5" y1="33.0" x2="56.5" y2="52.0" stroke="#fff" stroke-width="1.3" vector-effect="non-scaling-stroke"/><line x1="59.5" y1="33.0" x2="59.5" y2="52.0" stroke="#fff" stroke-width="1.3" vector-effect="non-scaling-stroke"/><line x1="11.5" y1="44.0" x2="56.5" y2="44.0" stroke="#fff" stroke-width="1.3" vector-effect="non-scaling-stroke"/><line x1="11.5" y1="46.5" x2="56.5" y2="46.5" stroke="#fff" stroke-width="1.3" vector-effect="non-scaling-stroke"/><path d="M1 58 L14 52 L17 53 L4 60 Z" fill="#7a7a7a" stroke="#fff" stroke-width="1" vector-effect="non-scaling-stroke" stroke-linejoin="round"/><path d="M49 58 L62 52 L65 53 L52 60 Z" fill="#7a7a7a" stroke="#fff" stroke-width="1" vector-effect="non-scaling-stroke" stroke-linejoin="round"/></g><g transform="translate(584.00,2509.50) scale(1.0000,0.9833)"><path d="M2 8 L14 0 L68 0 L68 6 L60 14 L2 14 Z" fill="#7a7a7a" stroke="#fff" stroke-width="1.3" vector-effect="non-scaling-stroke" stroke-linejoin="round"/><line x1="2.0" y1="8.0" x2="60.0" y2="8.0" stroke="#fff" stroke-width="1.3" vector-effect="non-scaling-stroke"/><line x1="60.0" y1="8.0" x2="68.0" y2="0.0" stroke="#fff" stroke-width="1.3" vector-effect="non-scaling-stroke"/><line x1="60.0" y1="8.0" x2="60.0" y2="14.0" stroke="#fff" stroke-width="1.3" vector-effect="non-scaling-stroke"/><path d="M6 14 L8 22 L58 22 L60 14" fill="#7a7a7a" stroke="#fff" stroke-width="1" vector-effect="non-scaling-stroke" stroke-linejoin="round"/><rect x="6.0" y="14.0" width="8.0" height="19.0" rx="0" fill="#7a7a7a" stroke="#fff" stroke-width="1.3" vector-effect="non-scaling-stroke"/><rect x="54.0" y="14.0" width="8.0" height="19.0" rx="0" fill="#7a7a7a" stroke="#fff" stroke-width="1.3" vector-effect="non-scaling-stroke"/><circle cx="10.0" cy="20.0" r="1.3" fill="#fff" stroke="#fff" stroke-width="1" vector-effect="non-scaling-stroke"/><circle cx="10.0" cy="27.0" r="1.3" fill="#fff" stroke="#fff" stroke-width="1" vector-effect="non-scaling-stroke"/><circle cx="58.0" cy="20.0" r="1.3" fill="#fff" stroke="#fff" stroke-width="1" vector-effect="non-scaling-stroke"/><circle cx="58.0" cy="27.0" r="1.3" fill="#fff" stroke="#fff" stroke-width="1" vector-effect="non-scaling-stroke"/><line x1="8.5" y1="33.0" x2="8.5" y2="52.0" stroke="#fff" stroke-width="1.3" vector-effect="non-scaling-stroke"/><line x1="11.5" y1="33.0" x2="11.5" y2="52.0" stroke="#fff" stroke-width="1.3" vector-effect="non-scaling-stroke"/><line x1="56.5" y1="33.0" x2="56.5" y2="52.0" stroke="#fff" stroke-width="1.3" vector-effect="non-scaling-stroke"/><line x1="59.5" y1="33.0" x2="59.5" y2="52.0" stroke="#fff" stroke-width="1.3" vector-effect="non-scaling-stroke"/><line x1="11.5" y1="44.0" x2="56.5" y2="44.0" stroke="#fff" stroke-width="1.3" vector-effect="non-scaling-stroke"/><line x1="11.5" y1="46.5" x2="56.5" y2="46.5" stroke="#fff" stroke-width="1.3" vector-effect="non-scaling-stroke"/><path d="M1 58 L14 52 L17 53 L4 60 Z" fill="#7a7a7a" stroke="#fff" stroke-width="1" vector-effect="non-scaling-stroke" stroke-linejoin="round"/><path d="M49 58 L62 52 L65 53 L52 60 Z" fill="#7a7a7a" stroke="#fff" stroke-width="1" vector-effect="non-scaling-stroke" stroke-linejoin="round"/></g><rect x="419.0" y="2257.5" width="63.0" height="29.0" fill="#fff"/><text textLength="39.00" lengthAdjust="spacing" x="450.5" y="2276.9" font-size="13.5" fill="#6e6e6e" text-anchor="middle" letter-spacing="0" font-family="Liberation Sans,sans-serif">宿舍一</text><rect x="621.0" y="2257.5" width="62.5" height="29.0" fill="#fff"/><text textLength="39.00" lengthAdjust="spacing" x="652.2" y="2276.9" font-size="13.5" fill="#6e6e6e" text-anchor="middle" letter-spacing="0" font-family="Liberation Sans,sans-serif">宿舍二</text><rect x="419.0" y="2416.0" width="63.0" height="27.0" fill="#fff"/><text textLength="39.00" lengthAdjust="spacing" x="450.5" y="2434.4" font-size="13.5" fill="#6e6e6e" text-anchor="middle" letter-spacing="0" font-family="Liberation Sans,sans-serif">课室一</text><rect x="621.0" y="2416.0" width="62.5" height="27.0" fill="#fff"/><text textLength="39.00" lengthAdjust="spacing" x="652.2" y="2434.4" font-size="13.5" fill="#6e6e6e" text-anchor="middle" letter-spacing="0" font-family="Liberation Sans,sans-serif">课室二</text><rect x="280.5" y="3471.5" width="420.5" height="321.5" rx="0" fill="none" stroke="#fff" stroke-width="1.8"/><line x1="280.5" y1="3632.5" x2="701.0" y2="3632.5" stroke="#fff" stroke-width="1.8"/><line x1="490.7" y1="3471.5" x2="490.7" y2="3632.5" stroke="#fff" stroke-width="1.8"/><line x1="412.0" y1="3632.5" x2="412.0" y2="3793.0" stroke="#fff" stroke-width="1.8"/><line x1="556.0" y1="3632.5" x2="556.0" y2="3793.0" stroke="#fff" stroke-width="1.8"/><line x1="101.8" y1="3641.5" x2="125.6" y2="3641.5" stroke="#fff" stroke-width="1.8"/><polyline points="296.0,3567.0 259.8,3567.0 259.8,3636.0 244.0,3636.0" fill="none" stroke="#fff" stroke-width="1.5" stroke-linejoin="round"/><polyline points="244.0,3642.0 259.8,3642.0 259.8,3769.8 301.0,3769.8" fill="none" stroke="#fff" stroke-width="1.5" stroke-linejoin="round"/><polyline points="296.0,3572.4 264.4,3572.4 264.4,3765.0 301.0,3765.0" fill="none" stroke="#fff" stroke-width="1.5" stroke-linejoin="round"/><line x1="341.0" y1="3565.5" x2="516.0" y2="3565.5" stroke="#fff" stroke-width="1.5"/><line x1="341.0" y1="3570.7" x2="516.0" y2="3570.7" stroke="#fff" stroke-width="1.5"/><line x1="381.0" y1="3733.6" x2="460.0" y2="3733.6" stroke="#fff" stroke-width="1.5"/><line x1="381.0" y1="3738.3" x2="460.0" y2="3738.3" stroke="#fff" stroke-width="1.5"/><line x1="505.0" y1="3733.6" x2="592.0" y2="3733.6" stroke="#fff" stroke-width="1.5"/><line x1="505.0" y1="3738.3" x2="592.0" y2="3738.3" stroke="#fff" stroke-width="1.5"/><path d="M75.2 3614.5 C77.4 3619.5 81.4 3624.5 81.4 3629.5 A7.0 7.0 0 0 1 67.4 3629.5 C67.4 3624.5 71.9 3619.5 75.2 3614.5 Z" fill="#fff"/><path d="M57.4 3639.3 q5.65 7.5 11.3 0 q5.65 7.5 11.3 0 q5.65 7.5 11.3 0" fill="none" stroke="#fff" stroke-width="1.5"/><path d="M57.4 3645.5 q5.65 7.5 11.3 0 q5.65 7.5 11.3 0 q5.65 7.5 11.3 0" fill="none" stroke="#fff" stroke-width="1.5"/><text textLength="50.00" lengthAdjust="spacing" x="74.4" y="3671.5" font-size="9.8" fill="#fff" text-anchor="middle" font-family="Liberation Sans,sans-serif">市政自来水</text><g transform="translate(125.60,3584.80) scale(1.0000,1.0000)"><rect x="0.0" y="0.0" width="118.5" height="101.8" rx="0" fill="#7a7a7a" stroke="#fff" stroke-width="1.3" vector-effect="non-scaling-stroke"/><line x1="0.0" y1="2.8" x2="82.0" y2="2.8" stroke="#fff" stroke-width="1.3" vector-effect="non-scaling-stroke"/><line x1="0.0" y1="97.6" x2="118.5" y2="97.6" stroke="#fff" stroke-width="1.3" vector-effect="non-scaling-stroke"/><rect x="8.4" y="13.9" width="20.9" height="78.1" rx="6" fill="#7a7a7a" stroke="#fff" stroke-width="1.3" vector-effect="non-scaling-stroke"/><line x1="8.4" y1="27.9" x2="29.3" y2="27.9" stroke="#fff" stroke-width="1.3" vector-effect="non-scaling-stroke"/><line x1="8.4" y1="69.7" x2="29.3" y2="69.7" stroke="#fff" stroke-width="1.3" vector-effect="non-scaling-stroke"/><circle cx="13.9" cy="8.5" r="2.3" fill="#7a7a7a" stroke="#fff" stroke-width="1" vector-effect="non-scaling-stroke"/><circle cx="22.9" cy="8.5" r="2.3" fill="#7a7a7a" stroke="#fff" stroke-width="1" vector-effect="non-scaling-stroke"/><rect x="31.2" y="13.9" width="21.2" height="78.1" rx="6" fill="#7a7a7a" stroke="#fff" stroke-width="1.3" vector-effect="non-scaling-stroke"/><line x1="31.2" y1="27.9" x2="52.4" y2="27.9" stroke="#fff" stroke-width="1.3" vector-effect="non-scaling-stroke"/><line x1="31.2" y1="69.7" x2="52.4" y2="69.7" stroke="#fff" stroke-width="1.3" vector-effect="non-scaling-stroke"/><circle cx="36.8" cy="8.5" r="2.3" fill="#7a7a7a" stroke="#fff" stroke-width="1" vector-effect="non-scaling-stroke"/><circle cx="45.8" cy="8.5" r="2.3" fill="#7a7a7a" stroke="#fff" stroke-width="1" vector-effect="non-scaling-stroke"/><rect x="54.4" y="13.9" width="20.9" height="78.1" rx="6" fill="#7a7a7a" stroke="#fff" stroke-width="1.3" vector-effect="non-scaling-stroke"/><line x1="54.4" y1="27.9" x2="75.3" y2="27.9" stroke="#fff" stroke-width="1.3" vector-effect="non-scaling-stroke"/><line x1="54.4" y1="69.7" x2="75.3" y2="69.7" stroke="#fff" stroke-width="1.3" vector-effect="non-scaling-stroke"/><circle cx="59.8" cy="8.5" r="2.3" fill="#7a7a7a" stroke="#fff" stroke-width="1" vector-effect="non-scaling-stroke"/><circle cx="68.8" cy="8.5" r="2.3" fill="#7a7a7a" stroke="#fff" stroke-width="1" vector-effect="non-scaling-stroke"/><line x1="3.0" y1="6.0" x2="3.0" y2="96.0" stroke="#fff" stroke-width="1.3" vector-effect="non-scaling-stroke"/><line x1="79.0" y1="6.0" x2="79.0" y2="96.0" stroke="#fff" stroke-width="1.3" vector-effect="non-scaling-stroke"/><rect x="82.3" y="0.0" width="34.3" height="101.8" rx="0" fill="#7a7a7a" stroke="#fff" stroke-width="1.3" vector-effect="non-scaling-stroke"/><rect x="82.3" y="2.8" width="34.3" height="22.3" rx="0" fill="#7a7a7a" stroke="#fff" stroke-width="1.3" vector-effect="non-scaling-stroke"/><rect x="90.6" y="5.2" width="18.2" height="8.7" rx="0" fill="#7a7a7a" stroke="#fff" stroke-width="1" vector-effect="non-scaling-stroke"/><circle cx="93.0" cy="20.0" r="1.6" fill="#7a7a7a" stroke="#fff" stroke-width="1" vector-effect="non-scaling-stroke"/><circle cx="106.0" cy="20.0" r="1.6" fill="#7a7a7a" stroke="#fff" stroke-width="1" vector-effect="non-scaling-stroke"/><rect x="82.3" y="27.9" width="34.3" height="16.7" rx="0" fill="#7a7a7a" stroke="#fff" stroke-width="1.3" vector-effect="non-scaling-stroke"/><rect x="88.0" y="30.0" width="4.0" height="12.0" rx="0" fill="#7a7a7a" stroke="#fff" stroke-width="1" vector-effect="non-scaling-stroke"/><circle cx="99.5" cy="32.5" r="2.0" fill="#7a7a7a" stroke="#fff" stroke-width="1" vector-effect="non-scaling-stroke"/><circle cx="99.5" cy="39.0" r="2.0" fill="#7a7a7a" stroke="#fff" stroke-width="1" vector-effect="non-scaling-stroke"/><rect x="107.0" y="30.0" width="4.0" height="12.0" rx="0" fill="#7a7a7a" stroke="#fff" stroke-width="1" vector-effect="non-scaling-stroke"/><rect x="82.3" y="46.0" width="34.3" height="46.0" rx="0" fill="#7a7a7a" stroke="#fff" stroke-width="1.3" vector-effect="non-scaling-stroke"/><rect x="86.0" y="50.0" width="9.0" height="10.0" rx="0" fill="#7a7a7a" stroke="#fff" stroke-width="1" vector-effect="non-scaling-stroke"/><rect x="96.0" y="50.0" width="8.0" height="6.0" rx="0" fill="#7a7a7a" stroke="#fff" stroke-width="1" vector-effect="non-scaling-stroke"/><rect x="106.0" y="48.0" width="4.0" height="24.0" rx="0" fill="#7a7a7a" stroke="#fff" stroke-width="1" vector-effect="non-scaling-stroke"/><rect x="86.0" y="62.0" width="8.0" height="14.0" rx="0" fill="#7a7a7a" stroke="#fff" stroke-width="1" vector-effect="non-scaling-stroke"/><rect x="96.0" y="60.0" width="8.0" height="12.0" rx="0" fill="#7a7a7a" stroke="#fff" stroke-width="1" vector-effect="non-scaling-stroke"/><rect x="88.0" y="78.0" width="16.0" height="8.0" rx="0" fill="#7a7a7a" stroke="#fff" stroke-width="1" vector-effect="non-scaling-stroke"/><rect x="106.0" y="76.0" width="6.0" height="12.0" rx="0" fill="#7a7a7a" stroke="#fff" stroke-width="1" vector-effect="non-scaling-stroke"/></g><g transform="translate(296.00,3514.00) scale(1.0227,1.0372)"><path d="M0 65.3 V6.5 Q0 0 6.5 0 H37.5 Q44 0 44 6.5 V65.3 Z" fill="#7a7a7a" stroke="#fff" stroke-width="1.3" vector-effect="non-scaling-stroke" stroke-linejoin="round"/><line x1="0.0" y1="24.1" x2="44.0" y2="24.1" stroke="#fff" stroke-width="1.3" vector-effect="non-scaling-stroke"/><line x1="0.0" y1="25.9" x2="44.0" y2="25.9" stroke="#fff" stroke-width="1" vector-effect="non-scaling-stroke"/><path d="M13.7 25.9 V27.6 Q13.7 28.6 15 28.6 H29.5 Q30.8 28.6 30.8 27.6 V25.9" fill="none" stroke="#fff" stroke-width="1" vector-effect="non-scaling-stroke" stroke-linejoin="round"/><rect x="18.4" y="10.1" width="6.4" height="4.3" rx="0" fill="#7a7a7a" stroke="#fff" stroke-width="1" vector-effect="non-scaling-stroke"/><line x1="0.0" y1="61.0" x2="44.0" y2="61.0" stroke="#fff" stroke-width="1.2" vector-effect="non-scaling-stroke"/></g><g transform="translate(396.00,3505.00) scale(1.0190,1.0246)"><rect x="0.0" y="1.0" width="5.0" height="120.8" rx="2.5" fill="none" stroke="#fff" stroke-width="1.3" vector-effect="non-scaling-stroke"/><rect x="74.3" y="1.0" width="4.7" height="120.8" rx="2.5" fill="none" stroke="#fff" stroke-width="1.3" vector-effect="non-scaling-stroke"/><line x1="5.0" y1="12.0" x2="74.3" y2="12.0" stroke="#fff" stroke-width="1.3" vector-effect="non-scaling-stroke"/><line x1="5.0" y1="14.5" x2="74.3" y2="14.5" stroke="#fff" stroke-width="1.3" vector-effect="non-scaling-stroke"/><path d="M45.7 11 L45.7 5 Q45.7 0 51 0 L68 0 Q73.6 0 73.6 5 L73.6 11 Z" fill="#7a7a7a" stroke="#fff" stroke-width="1.3" vector-effect="non-scaling-stroke" stroke-linejoin="round"/><rect x="31.8" y="36.8" width="43.2" height="53.2" rx="0" fill="none" stroke="#fff" stroke-width="1.3" vector-effect="non-scaling-stroke"/><rect x="5.0" y="36.8" width="3.8" height="53.2" rx="0" fill="none" stroke="#fff" stroke-width="1.3" vector-effect="non-scaling-stroke"/><rect x="13.5" y="36.8" width="15.7" height="8.2" rx="0" fill="none" stroke="#fff" stroke-width="1.3" vector-effect="non-scaling-stroke"/><rect x="13.5" y="51.0" width="15.7" height="9.0" rx="0" fill="none" stroke="#fff" stroke-width="1.3" vector-effect="non-scaling-stroke"/><rect x="13.5" y="66.0" width="15.7" height="9.0" rx="0" fill="none" stroke="#fff" stroke-width="1.3" vector-effect="non-scaling-stroke"/><rect x="13.5" y="81.4" width="15.7" height="9.6" rx="0" fill="none" stroke="#fff" stroke-width="1.3" vector-effect="non-scaling-stroke"/><path d="M46.4 88.3 L46.4 81.7 Q46.4 76.7 51.4 76.7 L68 76.7 Q73 76.7 73 81.7 L73 88.3 Z" fill="#7a7a7a" stroke="#fff" stroke-width="1.3" vector-effect="non-scaling-stroke" stroke-linejoin="round"/><line x1="5.0" y1="113.6" x2="74.3" y2="113.6" stroke="#fff" stroke-width="1.3" vector-effect="non-scaling-stroke"/><line x1="5.0" y1="115.8" x2="74.3" y2="115.8" stroke="#fff" stroke-width="1.3" vector-effect="non-scaling-stroke"/></g><g transform="translate(515.30,3509.70) scale(1.0000,1.0000)"><rect x="0.0" y="0.0" width="42.2" height="120.3" rx="0" fill="#7a7a7a" stroke="#fff" stroke-width="1.3" vector-effect="non-scaling-stroke"/><line x1="3.2" y1="0.0" x2="3.2" y2="118.0" stroke="#fff" stroke-width="1" vector-effect="non-scaling-stroke"/><line x1="39.3" y1="0.0" x2="39.3" y2="118.0" stroke="#fff" stroke-width="1" vector-effect="non-scaling-stroke"/><line x1="0.0" y1="43.1" x2="42.2" y2="43.1" stroke="#fff" stroke-width="1.3" vector-effect="non-scaling-stroke"/><rect x="26.0" y="8.3" width="11.3" height="6.5" rx="0" fill="#7a7a7a" stroke="#fff" stroke-width="1" vector-effect="non-scaling-stroke"/><rect x="7.7" y="37.0" width="4.0" height="4.0" rx="0" fill="#7a7a7a" stroke="#fff" stroke-width="1" vector-effect="non-scaling-stroke"/><rect x="30.8" y="37.0" width="4.0" height="4.0" rx="0" fill="#7a7a7a" stroke="#fff" stroke-width="1" vector-effect="non-scaling-stroke"/><line x1="9.7" y1="43.1" x2="9.7" y2="45.5" stroke="#fff" stroke-width="1" vector-effect="non-scaling-stroke"/><line x1="32.8" y1="43.1" x2="32.8" y2="45.5" stroke="#fff" stroke-width="1" vector-effect="non-scaling-stroke"/><line x1="0.0" y1="70.8" x2="42.2" y2="70.8" stroke="#fff" stroke-width="1.3" vector-effect="non-scaling-stroke"/><line x1="0.0" y1="74.0" x2="42.2" y2="74.0" stroke="#fff" stroke-width="1.3" vector-effect="non-scaling-stroke"/><rect x="6.0" y="117.0" width="4.0" height="3.3" rx="0" fill="#7a7a7a" stroke="#fff" stroke-width="1" vector-effect="non-scaling-stroke"/><rect x="32.0" y="117.0" width="4.0" height="3.3" rx="0" fill="#7a7a7a" stroke="#fff" stroke-width="1" vector-effect="non-scaling-stroke"/></g><g transform="translate(586.00,3554.00) scale(0.7986,0.8444)"><path d="M9.2 59.8 A9.6 9.6 0 0 1 28.4 59.8 Z" fill="#7a7a7a" stroke="#fff" stroke-width="1.3" vector-effect="non-scaling-stroke" stroke-linejoin="round"/><path d="M18.8 55 L8.5 33 L25.6 17.6" fill="none" stroke="#fff" stroke-width="1.6" vector-effect="non-scaling-stroke" stroke-linejoin="round"/><path d="M26.9 25.8 L41.9 25.8 L38 13 L30 13 Z" fill="#7a7a7a" stroke="#fff" stroke-width="1.3" vector-effect="non-scaling-stroke" stroke-linejoin="round"/><path d="M30 13 A4 4 0 0 1 38 13" fill="#7a7a7a" stroke="#fff" stroke-width="1.3" vector-effect="non-scaling-stroke" stroke-linejoin="round"/><rect x="49.7" y="0.5" width="61.8" height="44.5" rx="5" fill="#7a7a7a" stroke="#fff" stroke-width="1.3" vector-effect="non-scaling-stroke"/><path d="M94.3 8.3 L104.6 8.3 L104.6 19.3" fill="none" stroke="#fff" stroke-width="1.3" vector-effect="non-scaling-stroke" stroke-linejoin="round"/><circle cx="80.6" cy="22.8" r="4.0" fill="#7a7a7a" stroke="#fff" stroke-width="1.3" vector-effect="non-scaling-stroke"/><rect x="73.7" y="35.8" width="12.7" height="24.0" rx="0" fill="#7a7a7a" stroke="#fff" stroke-width="1.3" vector-effect="non-scaling-stroke"/><line x1="120.7" y1="25.0" x2="120.7" y2="40.0" stroke="#fff" stroke-width="1.2" vector-effect="non-scaling-stroke"/><line x1="123.5" y1="25.0" x2="123.5" y2="40.0" stroke="#fff" stroke-width="1.2" vector-effect="non-scaling-stroke"/><path d="M126 40 L130 28" fill="none" stroke="#fff" stroke-width="1.2" vector-effect="non-scaling-stroke" stroke-linejoin="round"/><rect x="116.0" y="40.0" width="17.8" height="19.8" rx="0" fill="#7a7a7a" stroke="#fff" stroke-width="1.3" vector-effect="non-scaling-stroke"/><rect x="0.6" y="59.8" width="138.4" height="11.0" rx="0" fill="#7a7a7a" stroke="#fff" stroke-width="1.3" vector-effect="non-scaling-stroke"/><line x1="9.5" y1="70.8" x2="9.5" y2="90.0" stroke="#fff" stroke-width="1.3" vector-effect="non-scaling-stroke"/><line x1="17.7" y1="70.8" x2="17.7" y2="90.0" stroke="#fff" stroke-width="1.3" vector-effect="non-scaling-stroke"/><line x1="121.8" y1="70.8" x2="121.8" y2="90.0" stroke="#fff" stroke-width="1.3" vector-effect="non-scaling-stroke"/><line x1="129.7" y1="70.8" x2="129.7" y2="90.0" stroke="#fff" stroke-width="1.3" vector-effect="non-scaling-stroke"/></g><g transform="translate(300.00,3685.50) scale(0.5586,0.7279)"><rect x="4.0" y="22.0" width="136.0" height="34.0" rx="0" fill="#7a7a7a" stroke="#fff" stroke-width="1.3" vector-effect="non-scaling-stroke"/><rect x="2.0" y="0.0" width="140.0" height="22.0" rx="0" fill="#7a7a7a" stroke="#fff" stroke-width="1.3" vector-effect="non-scaling-stroke"/><line x1="4.0" y1="24.5" x2="140.0" y2="24.5" stroke="#fff" stroke-width="1.3" vector-effect="non-scaling-stroke"/><rect x="26.1" y="24.5" width="2.6" height="4.0" rx="0" fill="#7a7a7a" stroke="#fff" stroke-width="1" vector-effect="non-scaling-stroke"/><rect x="72.1" y="24.5" width="2.6" height="4.0" rx="0" fill="#7a7a7a" stroke="#fff" stroke-width="1" vector-effect="non-scaling-stroke"/><rect x="120.0" y="24.5" width="2.6" height="4.0" rx="0" fill="#7a7a7a" stroke="#fff" stroke-width="1" vector-effect="non-scaling-stroke"/><rect x="7.0" y="137.0" width="6.0" height="9.5" rx="0" fill="#7a7a7a" stroke="#fff" stroke-width="1.3" vector-effect="non-scaling-stroke"/><rect x="131.0" y="137.0" width="6.0" height="9.5" rx="0" fill="#7a7a7a" stroke="#fff" stroke-width="1.3" vector-effect="non-scaling-stroke"/><rect x="0.0" y="55.5" width="144.7" height="81.5" rx="0" fill="#7a7a7a" stroke="#fff" stroke-width="1.3" vector-effect="non-scaling-stroke"/><line x1="0.0" y1="59.5" x2="144.7" y2="59.5" stroke="#fff" stroke-width="1.3" vector-effect="non-scaling-stroke"/></g><g transform="translate(459.00,3683.00) scale(0.8246,0.8289)"><line x1="2.0" y1="70.3" x2="2.0" y2="82.4" stroke="#fff" stroke-width="1.3" vector-effect="non-scaling-stroke"/><line x1="54.8" y1="70.3" x2="54.8" y2="82.4" stroke="#fff" stroke-width="1.3" vector-effect="non-scaling-stroke"/><rect x="2.0" y="0.0" width="52.8" height="70.3" rx="0" fill="#7a7a7a" stroke="#fff" stroke-width="1.3" vector-effect="non-scaling-stroke"/><rect x="40.4" y="10.3" width="11.3" height="16.1" rx="0" fill="#7a7a7a" stroke="#fff" stroke-width="1" vector-effect="non-scaling-stroke"/><rect x="14.2" y="36.0" width="4.4" height="5.0" rx="0" fill="#7a7a7a" stroke="#fff" stroke-width="1" vector-effect="non-scaling-stroke"/><path d="M14.899999999999999 41 L15.399999999999999 45 L17.4 45 L17.9 41" fill="#7a7a7a" stroke="#fff" stroke-width="1" vector-effect="non-scaling-stroke" stroke-linejoin="round"/><rect x="40.8" y="36.0" width="4.4" height="5.0" rx="0" fill="#7a7a7a" stroke="#fff" stroke-width="1" vector-effect="non-scaling-stroke"/><path d="M41.5 41 L42 45 L44 45 L44.5 41" fill="#7a7a7a" stroke="#fff" stroke-width="1" vector-effect="non-scaling-stroke" stroke-linejoin="round"/><rect x="4.0" y="128.0" width="4.0" height="3.5" rx="0" fill="#7a7a7a" stroke="#fff" stroke-width="1.3" vector-effect="non-scaling-stroke"/><rect x="50.7" y="128.0" width="4.0" height="3.5" rx="0" fill="#7a7a7a" stroke="#fff" stroke-width="1.3" vector-effect="non-scaling-stroke"/><rect x="0.0" y="82.4" width="57.0" height="45.6" rx="0" fill="#7a7a7a" stroke="#fff" stroke-width="1.3" vector-effect="non-scaling-stroke"/><rect x="4.0" y="86.5" width="48.4" height="38.0" rx="0" fill="#7a7a7a" stroke="#fff" stroke-width="1" vector-effect="non-scaling-stroke"/><circle cx="45.5" cy="104.5" r="1.5" fill="#fff" stroke="#fff" stroke-width="1" vector-effect="non-scaling-stroke"/></g><g transform="translate(590.00,3706.00) scale(1.0375,1.0625)"><path d="M3 9 L3 71 L70 80 L70 30 L79 25 L79 71 L70 80" fill="#7a7a7a" stroke="#fff" stroke-width="1.3" vector-effect="non-scaling-stroke" stroke-linejoin="round"/><path d="M0 7 L52 6 L57 3 L57 22 L50 27 L3 27 Z" fill="#7a7a7a" stroke="#fff" stroke-width="1.3" vector-effect="non-scaling-stroke" stroke-linejoin="round"/><path d="M3 9 L52 8 L52 26" fill="none" stroke="#fff" stroke-width="1.3" vector-effect="non-scaling-stroke" stroke-linejoin="round"/><path d="M50 27 L78 21 L80 23 L70 30 L52 29 Z" fill="#7a7a7a" stroke="#fff" stroke-width="1.3" vector-effect="non-scaling-stroke" stroke-linejoin="round"/><ellipse cx="26.5" cy="4" rx="11" ry="3.5" fill="#7a7a7a" stroke="#fff" stroke-width="1.3" vector-effect="non-scaling-stroke"/><ellipse cx="58.6" cy="20" rx="11" ry="3.5" fill="#7a7a7a" stroke="#fff" stroke-width="1.3" vector-effect="non-scaling-stroke"/><rect x="13.0" y="18.0" width="12.3" height="6.7" rx="0" fill="#7a7a7a" stroke="#fff" stroke-width="1" vector-effect="non-scaling-stroke"/><path d="M31 3 l2 -5 l3 2 M63 19 l2 -5 l3 2" fill="none" stroke="#fff" stroke-width="1" vector-effect="non-scaling-stroke" stroke-linejoin="round"/><path d="M3 27 L3 71 L70 80 L70 30" fill="none" stroke="#fff" stroke-width="1.3" vector-effect="non-scaling-stroke" stroke-linejoin="round"/></g><rect x="431.0" y="3471.5" width="59.7" height="29.0" fill="#fff"/><text textLength="26.00" lengthAdjust="spacing" x="468.9" y="3490.7" font-size="13" fill="#6e6e6e" text-anchor="middle" letter-spacing="0" font-family="Liberation Sans,sans-serif">宿舍</text><rect x="637.0" y="3471.5" width="64.0" height="29.0" fill="#fff"/><text textLength="39.00" lengthAdjust="spacing" x="669.0" y="3490.9" font-size="13.5" fill="#6e6e6e" text-anchor="middle" letter-spacing="0" font-family="Liberation Sans,sans-serif">办公室</text><rect x="349.0" y="3632.5" width="63.0" height="28.5" fill="#fff"/><text textLength="39.00" lengthAdjust="spacing" x="380.5" y="3651.6" font-size="13.5" fill="#6e6e6e" text-anchor="middle" letter-spacing="0" font-family="Liberation Sans,sans-serif">教学区</text><rect x="493.0" y="3632.5" width="63.0" height="28.5" fill="#fff"/><text textLength="35.77" lengthAdjust="spacing" x="524.5" y="3651.6" font-size="13.5" fill="#6e6e6e" text-anchor="middle" letter-spacing="2" font-family="Liberation Sans,sans-serif">食 堂</text><rect x="637.0" y="3632.5" width="64.0" height="28.5" fill="#fff"/><text textLength="35.77" lengthAdjust="spacing" x="669.0" y="3651.6" font-size="13.5" fill="#6e6e6e" text-anchor="middle" letter-spacing="2" font-family="Liberation Sans,sans-serif">操 场</text><path d="M49.14 4041.66 L57.53 4047.88 A17.20 17.20 0 1 1 37.07 4047.88 L45.46 4041.66 Q47.30 4039.70 49.14 4041.66 Z" fill="none" stroke="#1b9be0" stroke-width="2.6" stroke-linejoin="round"/><path d="M47.50 4046.70 C50.00 4051.68 53.75 4055.40 53.75 4059.15 A6.25 6.25 0 0 1 41.25 4059.15 C41.25 4055.40 45.00 4051.68 47.50 4046.70 Z" fill="#1b9be0"/><path d="M38.5 4064.5 Q40 4069.5 44.5 4069.5 L44.5 4073 M56.5 4064.5 Q55 4069.5 50.5 4069.5 L50.5 4073" fill="none" stroke="#1b9be0" stroke-width="1.8" stroke-linecap="round"/><path d="M247.78 4042.24 L255.87 4047.91 A17.20 17.20 0 1 1 236.13 4047.91 L244.22 4042.24 Q246.00 4040.40 247.78 4042.24 Z" fill="none" stroke="#1b9be0" stroke-width="2.6" stroke-linejoin="round"/><path d="M239.4 4052.3 L252.8 4052.3 L251 4071.6 L241.2 4071.6 Z" fill="none" stroke="#1b9be0" stroke-width="2.2" stroke-linejoin="round"/><path d="M242.3 4059.6 L249.9 4059.6 L248.9 4069.4 L243.3 4069.4 Z" fill="#1b9be0"/><path d="M442.78 4042.24 L450.87 4047.91 A17.20 17.20 0 1 1 431.13 4047.91 L439.22 4042.24 Q441.00 4040.40 442.78 4042.24 Z" fill="none" stroke="#1b9be0" stroke-width="2.6" stroke-linejoin="round"/><path d="M441 4052.3 Q446 4056 450 4055.5 L450 4062 Q450 4069.5 441 4073 Q432 4069.5 432 4062 L432 4055.5 Q436 4056 441 4052.3 Z" fill="none" stroke="#1b9be0" stroke-width="1.8" stroke-linejoin="round"/><path d="M441 4055.5 Q444.5 4058 447.2 4057.8 L447.2 4062.3 Q447.2 4067.5 441 4070 Q434.8 4067.5 434.8 4062.3 L434.8 4057.8 Q437.5 4058 441 4055.5 Z" fill="#1b9be0"/><path d="M615.26 4040.51 L623.27 4046.04 A17.20 17.20 0 1 1 603.73 4046.04 L611.74 4040.51 Q613.50 4038.70 615.26 4040.51 Z" fill="none" stroke="#1b9be0" stroke-width="2.6" stroke-linejoin="round"/><circle cx="613.5" cy="4059.6" r="4.6" fill="#1b9be0"/><circle cx="622.7" cy="4063.4" r="1.4" fill="#1b9be0"/><circle cx="617.3" cy="4068.8" r="1.4" fill="#1b9be0"/><circle cx="609.7" cy="4068.8" r="1.4" fill="#1b9be0"/><circle cx="604.3" cy="4063.4" r="1.4" fill="#1b9be0"/><circle cx="604.3" cy="4055.8" r="1.4" fill="#1b9be0"/><circle cx="609.7" cy="4050.4" r="1.4" fill="#1b9be0"/><circle cx="617.3" cy="4050.4" r="1.4" fill="#1b9be0"/><circle cx="622.7" cy="4055.8" r="1.4" fill="#1b9be0"/><path d="M618.1 4061.5L622.7 4063.4M615.4 4064.2L617.3 4068.8M611.6 4064.2L609.7 4068.8M608.9 4061.5L604.3 4063.4M608.9 4057.7L604.3 4055.8M611.6 4055.0L609.7 4050.4M615.4 4055.0L617.3 4050.4M618.1 4057.7L622.7 4055.8" stroke="#1b9be0" stroke-width="2"/><path d="M46.84 4099.06 L55.23 4105.28 A17.20 17.20 0 1 1 34.77 4105.28 L43.16 4099.06 Q45.00 4097.10 46.84 4099.06 Z" fill="none" stroke="#1b9be0" stroke-width="2.6" stroke-linejoin="round"/><path d="M44.60 4104.70 C46.00 4108.02 48.10 4110.90 48.10 4113.00 A3.50 3.50 0 0 1 41.10 4113.00 C41.10 4110.90 43.20 4108.02 44.60 4104.70 Z" fill="#1b9be0"/><path d="M36.60 4114.50 C38.00 4117.70 40.10 4120.40 40.10 4122.50 A3.50 3.50 0 0 1 33.10 4122.50 C33.10 4120.40 35.20 4117.70 36.60 4114.50 Z" fill="#1b9be0"/><path d="M51.60 4116.00 C53.00 4119.20 55.10 4121.90 55.10 4124.00 A3.50 3.50 0 0 1 48.10 4124.00 C48.10 4121.90 50.20 4119.20 51.60 4116.00 Z" fill="#1b9be0"/><path d="M246.42 4097.81 L255.15 4104.69 A17.20 17.20 0 1 1 233.85 4104.69 L242.58 4097.81 Q244.50 4095.70 246.42 4097.81 Z" fill="none" stroke="#1b9be0" stroke-width="2.6" stroke-linejoin="round"/><path d="M236 4110.5 A10.5 10.5 0 0 1 253.5 4112" fill="none" stroke="#1b9be0" stroke-width="1.6"/><path d="M253 4124.5 A10.5 10.5 0 0 1 235.5 4123" fill="none" stroke="#1b9be0" stroke-width="1.6"/><rect x="252.6" y="4113.5" width="3.2" height="3.2" transform="rotate(45 254.2 4115.1)" fill="#1b9be0"/><rect x="232.6" y="4118.5" width="3.2" height="3.2" transform="rotate(45 234.2 4120.1)" fill="#1b9be0"/><path d="M246.5 4109 L240.5 4118.5 L244.5 4118.5 L242 4126 L249 4115.5 L245 4115.5 L248 4109 Z" fill="none" stroke="#1b9be0" stroke-width="1.4" stroke-linejoin="round"/><path d="M441.54 4099.06 L449.93 4105.28 A17.20 17.20 0 1 1 429.47 4105.28 L437.86 4099.06 Q439.70 4097.10 441.54 4099.06 Z" fill="none" stroke="#1b9be0" stroke-width="2.6" stroke-linejoin="round"/><path d="M438.3 4120.8 L438.3 4110.2 A2.7 2.7 0 0 1 443.7 4110.2 L443.7 4120.8 A5.6 5.6 0 1 1 438.3 4120.8 Z" fill="none" stroke="#1b9be0" stroke-width="1.9"/><path d="M443 4124 A2.4 2.4 0 1 0 443 4127.5" fill="none" stroke="#1b9be0" stroke-width="1.3"/><path d="M428 4111.8 L435.5 4111.8 M428 4115.6 L435.5 4115.6 M428 4119.2 L435.5 4119.2" stroke="#1b9be0" stroke-width="2"/><path d="M267 3946.6 L285 3965.3 L267 3984 L249 3965.3 Z M478 3946.6 L496 3965.3 L478 3984 L460 3965.3 Z" fill="#fff"/></svg>
</div></body></html>
